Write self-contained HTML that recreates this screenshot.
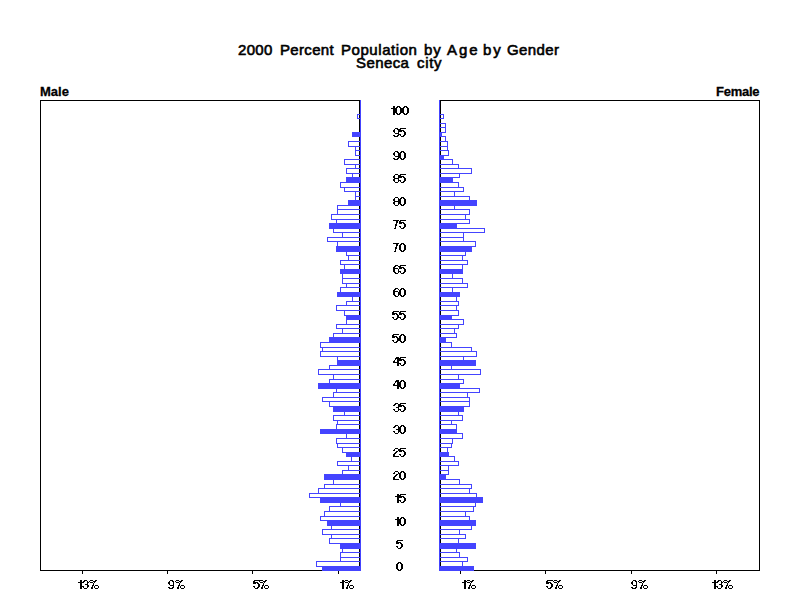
<!DOCTYPE html>
<html><head><meta charset="utf-8"><style>
html,body{margin:0;padding:0;background:#fff;}
body{width:800px;height:600px;position:relative;overflow:hidden;font-family:"Liberation Sans",sans-serif;}
i{position:absolute;display:block;}
b{position:absolute;display:block;white-space:nowrap;color:#000;line-height:1;font-weight:normal;}
.title{top:42px;font-size:15px;-webkit-text-stroke:0.6px #000;}
.sub{top:55px;font-size:15px;-webkit-text-stroke:0.6px #000;}
.side{top:85px;font-size:13px;font-weight:bold;-webkit-text-stroke:0.3px #000;}
.age{left:370px;width:60px;text-align:center;font-size:12px;letter-spacing:-0.5px;-webkit-text-stroke:0.3px #000;}
.tick{top:579px;font-size:12px;letter-spacing:0px;-webkit-text-stroke:0.3px #000;}
</style></head><body>
<b class="title" style="left:238px;letter-spacing:0.333px">2000</b>
<b class="title" style="left:280px;letter-spacing:0.333px">Percent</b>
<b class="title" style="left:341px;letter-spacing:0.556px">Population</b>
<b class="title" style="left:424px;letter-spacing:1.0px">by</b>
<b class="title" style="left:447px;letter-spacing:2.0px">Age</b>
<b class="title" style="left:483px;letter-spacing:2.0px">by</b>
<b class="title" style="left:507px;letter-spacing:0.4px">Gender</b>
<b class="sub" style="left:356px;letter-spacing:0.4px">Seneca</b>
<b class="sub" style="left:417px;letter-spacing:0.667px">city</b>
<b class="side" style="left:40px">Male</b>
<b class="side" style="left:716px;letter-spacing:-0.25px">Female</b>


<i style="left:40px;top:100px;width:320px;height:1px;background:#000"></i><i style="left:40px;top:570px;width:320px;height:1px;background:#000"></i><i style="left:40px;top:100px;width:1px;height:471px;background:#000"></i><i style="left:359px;top:100px;width:1px;height:471px;background:#000"></i><i style="left:440px;top:100px;width:320px;height:1px;background:#000"></i><i style="left:440px;top:570px;width:320px;height:1px;background:#000"></i><i style="left:759px;top:100px;width:1px;height:471px;background:#000"></i><i style="left:440px;top:100px;width:1px;height:471px;background:#000"></i><i style="left:82px;top:571px;width:1px;height:3px;background:#000"></i><i style="left:167px;top:571px;width:1px;height:3px;background:#000"></i><i style="left:252px;top:571px;width:1px;height:3px;background:#000"></i><i style="left:338px;top:571px;width:1px;height:3px;background:#000"></i><i style="left:460px;top:571px;width:1px;height:3px;background:#000"></i><i style="left:545px;top:571px;width:1px;height:3px;background:#000"></i><i style="left:631px;top:571px;width:1px;height:3px;background:#000"></i><i style="left:716px;top:571px;width:1px;height:3px;background:#000"></i><i style="left:357px;top:114px;width:4px;height:1px;background:#4444ff"></i><i style="left:357px;top:118px;width:4px;height:1px;background:#4444ff"></i><i style="left:357px;top:114px;width:1px;height:5px;background:#4444ff"></i><i style="left:439px;top:114px;width:5px;height:1px;background:#4444ff"></i><i style="left:439px;top:118px;width:5px;height:1px;background:#4444ff"></i><i style="left:443px;top:114px;width:1px;height:5px;background:#4444ff"></i><i style="left:439px;top:123px;width:7px;height:1px;background:#4444ff"></i><i style="left:439px;top:127px;width:7px;height:1px;background:#4444ff"></i><i style="left:445px;top:123px;width:1px;height:5px;background:#4444ff"></i><i style="left:439px;top:127px;width:7px;height:1px;background:#4444ff"></i><i style="left:439px;top:132px;width:7px;height:1px;background:#4444ff"></i><i style="left:445px;top:127px;width:1px;height:6px;background:#4444ff"></i><i style="left:352px;top:132px;width:9px;height:5px;background:#4444ff"></i><i style="left:439px;top:132px;width:3px;height:5px;background:#4444ff"></i><i style="left:439px;top:136px;width:7px;height:1px;background:#4444ff"></i><i style="left:439px;top:141px;width:7px;height:1px;background:#4444ff"></i><i style="left:445px;top:136px;width:1px;height:6px;background:#4444ff"></i><i style="left:348px;top:141px;width:13px;height:1px;background:#4444ff"></i><i style="left:348px;top:146px;width:13px;height:1px;background:#4444ff"></i><i style="left:348px;top:141px;width:1px;height:6px;background:#4444ff"></i><i style="left:439px;top:141px;width:9px;height:1px;background:#4444ff"></i><i style="left:439px;top:146px;width:9px;height:1px;background:#4444ff"></i><i style="left:447px;top:141px;width:1px;height:6px;background:#4444ff"></i><i style="left:355px;top:146px;width:6px;height:1px;background:#4444ff"></i><i style="left:355px;top:150px;width:6px;height:1px;background:#4444ff"></i><i style="left:355px;top:146px;width:1px;height:5px;background:#4444ff"></i><i style="left:439px;top:146px;width:9px;height:1px;background:#4444ff"></i><i style="left:439px;top:150px;width:9px;height:1px;background:#4444ff"></i><i style="left:447px;top:146px;width:1px;height:5px;background:#4444ff"></i><i style="left:355px;top:150px;width:6px;height:1px;background:#4444ff"></i><i style="left:355px;top:155px;width:6px;height:1px;background:#4444ff"></i><i style="left:355px;top:150px;width:1px;height:6px;background:#4444ff"></i><i style="left:439px;top:150px;width:10px;height:1px;background:#4444ff"></i><i style="left:439px;top:155px;width:10px;height:1px;background:#4444ff"></i><i style="left:448px;top:150px;width:1px;height:6px;background:#4444ff"></i><i style="left:439px;top:155px;width:5px;height:5px;background:#4444ff"></i><i style="left:344px;top:159px;width:17px;height:1px;background:#4444ff"></i><i style="left:344px;top:164px;width:17px;height:1px;background:#4444ff"></i><i style="left:344px;top:159px;width:1px;height:6px;background:#4444ff"></i><i style="left:439px;top:159px;width:14px;height:1px;background:#4444ff"></i><i style="left:439px;top:164px;width:14px;height:1px;background:#4444ff"></i><i style="left:452px;top:159px;width:1px;height:6px;background:#4444ff"></i><i style="left:355px;top:164px;width:6px;height:1px;background:#4444ff"></i><i style="left:355px;top:168px;width:6px;height:1px;background:#4444ff"></i><i style="left:355px;top:164px;width:1px;height:5px;background:#4444ff"></i><i style="left:439px;top:164px;width:20px;height:1px;background:#4444ff"></i><i style="left:439px;top:168px;width:20px;height:1px;background:#4444ff"></i><i style="left:458px;top:164px;width:1px;height:5px;background:#4444ff"></i><i style="left:346px;top:168px;width:15px;height:1px;background:#4444ff"></i><i style="left:346px;top:173px;width:15px;height:1px;background:#4444ff"></i><i style="left:346px;top:168px;width:1px;height:6px;background:#4444ff"></i><i style="left:439px;top:168px;width:33px;height:1px;background:#4444ff"></i><i style="left:439px;top:173px;width:33px;height:1px;background:#4444ff"></i><i style="left:471px;top:168px;width:1px;height:6px;background:#4444ff"></i><i style="left:352px;top:173px;width:9px;height:1px;background:#4444ff"></i><i style="left:352px;top:177px;width:9px;height:1px;background:#4444ff"></i><i style="left:352px;top:173px;width:1px;height:5px;background:#4444ff"></i><i style="left:439px;top:173px;width:21px;height:1px;background:#4444ff"></i><i style="left:439px;top:177px;width:21px;height:1px;background:#4444ff"></i><i style="left:459px;top:173px;width:1px;height:5px;background:#4444ff"></i><i style="left:346px;top:177px;width:15px;height:6px;background:#4444ff"></i><i style="left:439px;top:177px;width:14px;height:6px;background:#4444ff"></i><i style="left:340px;top:182px;width:21px;height:1px;background:#4444ff"></i><i style="left:340px;top:187px;width:21px;height:1px;background:#4444ff"></i><i style="left:340px;top:182px;width:1px;height:6px;background:#4444ff"></i><i style="left:439px;top:182px;width:20px;height:1px;background:#4444ff"></i><i style="left:439px;top:187px;width:20px;height:1px;background:#4444ff"></i><i style="left:458px;top:182px;width:1px;height:6px;background:#4444ff"></i><i style="left:344px;top:187px;width:17px;height:1px;background:#4444ff"></i><i style="left:344px;top:191px;width:17px;height:1px;background:#4444ff"></i><i style="left:344px;top:187px;width:1px;height:5px;background:#4444ff"></i><i style="left:439px;top:187px;width:25px;height:1px;background:#4444ff"></i><i style="left:439px;top:191px;width:25px;height:1px;background:#4444ff"></i><i style="left:463px;top:187px;width:1px;height:5px;background:#4444ff"></i><i style="left:355px;top:191px;width:6px;height:1px;background:#4444ff"></i><i style="left:355px;top:196px;width:6px;height:1px;background:#4444ff"></i><i style="left:355px;top:191px;width:1px;height:6px;background:#4444ff"></i><i style="left:439px;top:191px;width:16px;height:1px;background:#4444ff"></i><i style="left:439px;top:196px;width:16px;height:1px;background:#4444ff"></i><i style="left:454px;top:191px;width:1px;height:6px;background:#4444ff"></i><i style="left:355px;top:196px;width:6px;height:1px;background:#4444ff"></i><i style="left:355px;top:200px;width:6px;height:1px;background:#4444ff"></i><i style="left:355px;top:196px;width:1px;height:5px;background:#4444ff"></i><i style="left:439px;top:196px;width:31px;height:1px;background:#4444ff"></i><i style="left:439px;top:200px;width:31px;height:1px;background:#4444ff"></i><i style="left:469px;top:196px;width:1px;height:5px;background:#4444ff"></i><i style="left:348px;top:200px;width:13px;height:6px;background:#4444ff"></i><i style="left:439px;top:200px;width:38px;height:6px;background:#4444ff"></i><i style="left:337px;top:205px;width:24px;height:1px;background:#4444ff"></i><i style="left:337px;top:209px;width:24px;height:1px;background:#4444ff"></i><i style="left:337px;top:205px;width:1px;height:5px;background:#4444ff"></i><i style="left:439px;top:205px;width:16px;height:1px;background:#4444ff"></i><i style="left:439px;top:209px;width:16px;height:1px;background:#4444ff"></i><i style="left:454px;top:205px;width:1px;height:5px;background:#4444ff"></i><i style="left:337px;top:209px;width:24px;height:1px;background:#4444ff"></i><i style="left:337px;top:214px;width:24px;height:1px;background:#4444ff"></i><i style="left:337px;top:209px;width:1px;height:6px;background:#4444ff"></i><i style="left:439px;top:209px;width:31px;height:1px;background:#4444ff"></i><i style="left:439px;top:214px;width:31px;height:1px;background:#4444ff"></i><i style="left:469px;top:209px;width:1px;height:6px;background:#4444ff"></i><i style="left:331px;top:214px;width:30px;height:1px;background:#4444ff"></i><i style="left:331px;top:219px;width:30px;height:1px;background:#4444ff"></i><i style="left:331px;top:214px;width:1px;height:6px;background:#4444ff"></i><i style="left:439px;top:214px;width:27px;height:1px;background:#4444ff"></i><i style="left:439px;top:219px;width:27px;height:1px;background:#4444ff"></i><i style="left:465px;top:214px;width:1px;height:6px;background:#4444ff"></i><i style="left:336px;top:219px;width:25px;height:1px;background:#4444ff"></i><i style="left:336px;top:223px;width:25px;height:1px;background:#4444ff"></i><i style="left:336px;top:219px;width:1px;height:5px;background:#4444ff"></i><i style="left:439px;top:219px;width:31px;height:1px;background:#4444ff"></i><i style="left:439px;top:223px;width:31px;height:1px;background:#4444ff"></i><i style="left:469px;top:219px;width:1px;height:5px;background:#4444ff"></i><i style="left:329px;top:223px;width:32px;height:6px;background:#4444ff"></i><i style="left:439px;top:223px;width:18px;height:6px;background:#4444ff"></i><i style="left:333px;top:228px;width:28px;height:1px;background:#4444ff"></i><i style="left:333px;top:232px;width:28px;height:1px;background:#4444ff"></i><i style="left:333px;top:228px;width:1px;height:5px;background:#4444ff"></i><i style="left:439px;top:228px;width:46px;height:1px;background:#4444ff"></i><i style="left:439px;top:232px;width:46px;height:1px;background:#4444ff"></i><i style="left:484px;top:228px;width:1px;height:5px;background:#4444ff"></i><i style="left:342px;top:232px;width:19px;height:1px;background:#4444ff"></i><i style="left:342px;top:237px;width:19px;height:1px;background:#4444ff"></i><i style="left:342px;top:232px;width:1px;height:6px;background:#4444ff"></i><i style="left:439px;top:232px;width:25px;height:1px;background:#4444ff"></i><i style="left:439px;top:237px;width:25px;height:1px;background:#4444ff"></i><i style="left:463px;top:232px;width:1px;height:6px;background:#4444ff"></i><i style="left:327px;top:237px;width:34px;height:1px;background:#4444ff"></i><i style="left:327px;top:241px;width:34px;height:1px;background:#4444ff"></i><i style="left:327px;top:237px;width:1px;height:5px;background:#4444ff"></i><i style="left:439px;top:237px;width:25px;height:1px;background:#4444ff"></i><i style="left:439px;top:241px;width:25px;height:1px;background:#4444ff"></i><i style="left:463px;top:237px;width:1px;height:5px;background:#4444ff"></i><i style="left:337px;top:241px;width:24px;height:1px;background:#4444ff"></i><i style="left:337px;top:246px;width:24px;height:1px;background:#4444ff"></i><i style="left:337px;top:241px;width:1px;height:6px;background:#4444ff"></i><i style="left:439px;top:241px;width:37px;height:1px;background:#4444ff"></i><i style="left:439px;top:246px;width:37px;height:1px;background:#4444ff"></i><i style="left:475px;top:241px;width:1px;height:6px;background:#4444ff"></i><i style="left:336px;top:246px;width:25px;height:6px;background:#4444ff"></i><i style="left:439px;top:246px;width:33px;height:6px;background:#4444ff"></i><i style="left:346px;top:251px;width:15px;height:1px;background:#4444ff"></i><i style="left:346px;top:255px;width:15px;height:1px;background:#4444ff"></i><i style="left:346px;top:251px;width:1px;height:5px;background:#4444ff"></i><i style="left:439px;top:251px;width:27px;height:1px;background:#4444ff"></i><i style="left:439px;top:255px;width:27px;height:1px;background:#4444ff"></i><i style="left:465px;top:251px;width:1px;height:5px;background:#4444ff"></i><i style="left:348px;top:255px;width:13px;height:1px;background:#4444ff"></i><i style="left:348px;top:260px;width:13px;height:1px;background:#4444ff"></i><i style="left:348px;top:255px;width:1px;height:6px;background:#4444ff"></i><i style="left:439px;top:255px;width:24px;height:1px;background:#4444ff"></i><i style="left:439px;top:260px;width:24px;height:1px;background:#4444ff"></i><i style="left:462px;top:255px;width:1px;height:6px;background:#4444ff"></i><i style="left:340px;top:260px;width:21px;height:1px;background:#4444ff"></i><i style="left:340px;top:264px;width:21px;height:1px;background:#4444ff"></i><i style="left:340px;top:260px;width:1px;height:5px;background:#4444ff"></i><i style="left:439px;top:260px;width:29px;height:1px;background:#4444ff"></i><i style="left:439px;top:264px;width:29px;height:1px;background:#4444ff"></i><i style="left:467px;top:260px;width:1px;height:5px;background:#4444ff"></i><i style="left:344px;top:264px;width:17px;height:1px;background:#4444ff"></i><i style="left:344px;top:269px;width:17px;height:1px;background:#4444ff"></i><i style="left:344px;top:264px;width:1px;height:6px;background:#4444ff"></i><i style="left:439px;top:264px;width:24px;height:1px;background:#4444ff"></i><i style="left:439px;top:269px;width:24px;height:1px;background:#4444ff"></i><i style="left:462px;top:264px;width:1px;height:6px;background:#4444ff"></i><i style="left:340px;top:269px;width:21px;height:5px;background:#4444ff"></i><i style="left:439px;top:269px;width:24px;height:5px;background:#4444ff"></i><i style="left:342px;top:273px;width:19px;height:1px;background:#4444ff"></i><i style="left:342px;top:278px;width:19px;height:1px;background:#4444ff"></i><i style="left:342px;top:273px;width:1px;height:6px;background:#4444ff"></i><i style="left:439px;top:273px;width:14px;height:1px;background:#4444ff"></i><i style="left:439px;top:278px;width:14px;height:1px;background:#4444ff"></i><i style="left:452px;top:273px;width:1px;height:6px;background:#4444ff"></i><i style="left:342px;top:278px;width:19px;height:1px;background:#4444ff"></i><i style="left:342px;top:283px;width:19px;height:1px;background:#4444ff"></i><i style="left:342px;top:278px;width:1px;height:6px;background:#4444ff"></i><i style="left:439px;top:278px;width:24px;height:1px;background:#4444ff"></i><i style="left:439px;top:283px;width:24px;height:1px;background:#4444ff"></i><i style="left:462px;top:278px;width:1px;height:6px;background:#4444ff"></i><i style="left:346px;top:283px;width:15px;height:1px;background:#4444ff"></i><i style="left:346px;top:287px;width:15px;height:1px;background:#4444ff"></i><i style="left:346px;top:283px;width:1px;height:5px;background:#4444ff"></i><i style="left:439px;top:283px;width:29px;height:1px;background:#4444ff"></i><i style="left:439px;top:287px;width:29px;height:1px;background:#4444ff"></i><i style="left:467px;top:283px;width:1px;height:5px;background:#4444ff"></i><i style="left:340px;top:287px;width:21px;height:1px;background:#4444ff"></i><i style="left:340px;top:292px;width:21px;height:1px;background:#4444ff"></i><i style="left:340px;top:287px;width:1px;height:6px;background:#4444ff"></i><i style="left:439px;top:287px;width:14px;height:1px;background:#4444ff"></i><i style="left:439px;top:292px;width:14px;height:1px;background:#4444ff"></i><i style="left:452px;top:287px;width:1px;height:6px;background:#4444ff"></i><i style="left:337px;top:292px;width:24px;height:5px;background:#4444ff"></i><i style="left:439px;top:292px;width:21px;height:5px;background:#4444ff"></i><i style="left:352px;top:296px;width:9px;height:1px;background:#4444ff"></i><i style="left:352px;top:301px;width:9px;height:1px;background:#4444ff"></i><i style="left:352px;top:296px;width:1px;height:6px;background:#4444ff"></i><i style="left:439px;top:296px;width:18px;height:1px;background:#4444ff"></i><i style="left:439px;top:301px;width:18px;height:1px;background:#4444ff"></i><i style="left:456px;top:296px;width:1px;height:6px;background:#4444ff"></i><i style="left:346px;top:301px;width:15px;height:1px;background:#4444ff"></i><i style="left:346px;top:305px;width:15px;height:1px;background:#4444ff"></i><i style="left:346px;top:301px;width:1px;height:5px;background:#4444ff"></i><i style="left:439px;top:301px;width:20px;height:1px;background:#4444ff"></i><i style="left:439px;top:305px;width:20px;height:1px;background:#4444ff"></i><i style="left:458px;top:301px;width:1px;height:5px;background:#4444ff"></i><i style="left:336px;top:305px;width:25px;height:1px;background:#4444ff"></i><i style="left:336px;top:310px;width:25px;height:1px;background:#4444ff"></i><i style="left:336px;top:305px;width:1px;height:6px;background:#4444ff"></i><i style="left:439px;top:305px;width:18px;height:1px;background:#4444ff"></i><i style="left:439px;top:310px;width:18px;height:1px;background:#4444ff"></i><i style="left:456px;top:305px;width:1px;height:6px;background:#4444ff"></i><i style="left:344px;top:310px;width:17px;height:1px;background:#4444ff"></i><i style="left:344px;top:315px;width:17px;height:1px;background:#4444ff"></i><i style="left:344px;top:310px;width:1px;height:6px;background:#4444ff"></i><i style="left:439px;top:310px;width:20px;height:1px;background:#4444ff"></i><i style="left:439px;top:315px;width:20px;height:1px;background:#4444ff"></i><i style="left:458px;top:310px;width:1px;height:6px;background:#4444ff"></i><i style="left:346px;top:315px;width:15px;height:5px;background:#4444ff"></i><i style="left:439px;top:315px;width:13px;height:5px;background:#4444ff"></i><i style="left:346px;top:319px;width:15px;height:1px;background:#4444ff"></i><i style="left:346px;top:324px;width:15px;height:1px;background:#4444ff"></i><i style="left:346px;top:319px;width:1px;height:6px;background:#4444ff"></i><i style="left:439px;top:319px;width:25px;height:1px;background:#4444ff"></i><i style="left:439px;top:324px;width:25px;height:1px;background:#4444ff"></i><i style="left:463px;top:319px;width:1px;height:6px;background:#4444ff"></i><i style="left:336px;top:324px;width:25px;height:1px;background:#4444ff"></i><i style="left:336px;top:328px;width:25px;height:1px;background:#4444ff"></i><i style="left:336px;top:324px;width:1px;height:5px;background:#4444ff"></i><i style="left:439px;top:324px;width:20px;height:1px;background:#4444ff"></i><i style="left:439px;top:328px;width:20px;height:1px;background:#4444ff"></i><i style="left:458px;top:324px;width:1px;height:5px;background:#4444ff"></i><i style="left:342px;top:328px;width:19px;height:1px;background:#4444ff"></i><i style="left:342px;top:333px;width:19px;height:1px;background:#4444ff"></i><i style="left:342px;top:328px;width:1px;height:6px;background:#4444ff"></i><i style="left:439px;top:328px;width:16px;height:1px;background:#4444ff"></i><i style="left:439px;top:333px;width:16px;height:1px;background:#4444ff"></i><i style="left:454px;top:328px;width:1px;height:6px;background:#4444ff"></i><i style="left:333px;top:333px;width:28px;height:1px;background:#4444ff"></i><i style="left:333px;top:337px;width:28px;height:1px;background:#4444ff"></i><i style="left:333px;top:333px;width:1px;height:5px;background:#4444ff"></i><i style="left:439px;top:333px;width:18px;height:1px;background:#4444ff"></i><i style="left:439px;top:337px;width:18px;height:1px;background:#4444ff"></i><i style="left:456px;top:333px;width:1px;height:5px;background:#4444ff"></i><i style="left:329px;top:337px;width:32px;height:6px;background:#4444ff"></i><i style="left:439px;top:337px;width:7px;height:6px;background:#4444ff"></i><i style="left:320px;top:342px;width:41px;height:1px;background:#4444ff"></i><i style="left:320px;top:347px;width:41px;height:1px;background:#4444ff"></i><i style="left:320px;top:342px;width:1px;height:6px;background:#4444ff"></i><i style="left:439px;top:342px;width:13px;height:1px;background:#4444ff"></i><i style="left:439px;top:347px;width:13px;height:1px;background:#4444ff"></i><i style="left:451px;top:342px;width:1px;height:6px;background:#4444ff"></i><i style="left:322px;top:347px;width:39px;height:1px;background:#4444ff"></i><i style="left:322px;top:351px;width:39px;height:1px;background:#4444ff"></i><i style="left:322px;top:347px;width:1px;height:5px;background:#4444ff"></i><i style="left:439px;top:347px;width:33px;height:1px;background:#4444ff"></i><i style="left:439px;top:351px;width:33px;height:1px;background:#4444ff"></i><i style="left:471px;top:347px;width:1px;height:5px;background:#4444ff"></i><i style="left:320px;top:351px;width:41px;height:1px;background:#4444ff"></i><i style="left:320px;top:356px;width:41px;height:1px;background:#4444ff"></i><i style="left:320px;top:351px;width:1px;height:6px;background:#4444ff"></i><i style="left:439px;top:351px;width:38px;height:1px;background:#4444ff"></i><i style="left:439px;top:356px;width:38px;height:1px;background:#4444ff"></i><i style="left:476px;top:351px;width:1px;height:6px;background:#4444ff"></i><i style="left:337px;top:356px;width:24px;height:1px;background:#4444ff"></i><i style="left:337px;top:360px;width:24px;height:1px;background:#4444ff"></i><i style="left:337px;top:356px;width:1px;height:5px;background:#4444ff"></i><i style="left:439px;top:356px;width:25px;height:1px;background:#4444ff"></i><i style="left:439px;top:360px;width:25px;height:1px;background:#4444ff"></i><i style="left:463px;top:356px;width:1px;height:5px;background:#4444ff"></i><i style="left:337px;top:360px;width:24px;height:6px;background:#4444ff"></i><i style="left:439px;top:360px;width:37px;height:6px;background:#4444ff"></i><i style="left:329px;top:365px;width:32px;height:1px;background:#4444ff"></i><i style="left:329px;top:369px;width:32px;height:1px;background:#4444ff"></i><i style="left:329px;top:365px;width:1px;height:5px;background:#4444ff"></i><i style="left:439px;top:365px;width:13px;height:1px;background:#4444ff"></i><i style="left:439px;top:369px;width:13px;height:1px;background:#4444ff"></i><i style="left:451px;top:365px;width:1px;height:5px;background:#4444ff"></i><i style="left:318px;top:369px;width:43px;height:1px;background:#4444ff"></i><i style="left:318px;top:374px;width:43px;height:1px;background:#4444ff"></i><i style="left:318px;top:369px;width:1px;height:6px;background:#4444ff"></i><i style="left:439px;top:369px;width:42px;height:1px;background:#4444ff"></i><i style="left:439px;top:374px;width:42px;height:1px;background:#4444ff"></i><i style="left:480px;top:369px;width:1px;height:6px;background:#4444ff"></i><i style="left:333px;top:374px;width:28px;height:1px;background:#4444ff"></i><i style="left:333px;top:379px;width:28px;height:1px;background:#4444ff"></i><i style="left:333px;top:374px;width:1px;height:6px;background:#4444ff"></i><i style="left:439px;top:374px;width:20px;height:1px;background:#4444ff"></i><i style="left:439px;top:379px;width:20px;height:1px;background:#4444ff"></i><i style="left:458px;top:374px;width:1px;height:6px;background:#4444ff"></i><i style="left:329px;top:379px;width:32px;height:1px;background:#4444ff"></i><i style="left:329px;top:383px;width:32px;height:1px;background:#4444ff"></i><i style="left:329px;top:379px;width:1px;height:5px;background:#4444ff"></i><i style="left:439px;top:379px;width:25px;height:1px;background:#4444ff"></i><i style="left:439px;top:383px;width:25px;height:1px;background:#4444ff"></i><i style="left:463px;top:379px;width:1px;height:5px;background:#4444ff"></i><i style="left:318px;top:383px;width:43px;height:6px;background:#4444ff"></i><i style="left:439px;top:383px;width:21px;height:6px;background:#4444ff"></i><i style="left:336px;top:388px;width:25px;height:1px;background:#4444ff"></i><i style="left:336px;top:392px;width:25px;height:1px;background:#4444ff"></i><i style="left:336px;top:388px;width:1px;height:5px;background:#4444ff"></i><i style="left:439px;top:388px;width:41px;height:1px;background:#4444ff"></i><i style="left:439px;top:392px;width:41px;height:1px;background:#4444ff"></i><i style="left:479px;top:388px;width:1px;height:5px;background:#4444ff"></i><i style="left:333px;top:392px;width:28px;height:1px;background:#4444ff"></i><i style="left:333px;top:397px;width:28px;height:1px;background:#4444ff"></i><i style="left:333px;top:392px;width:1px;height:6px;background:#4444ff"></i><i style="left:439px;top:392px;width:29px;height:1px;background:#4444ff"></i><i style="left:439px;top:397px;width:29px;height:1px;background:#4444ff"></i><i style="left:467px;top:392px;width:1px;height:6px;background:#4444ff"></i><i style="left:322px;top:397px;width:39px;height:1px;background:#4444ff"></i><i style="left:322px;top:401px;width:39px;height:1px;background:#4444ff"></i><i style="left:322px;top:397px;width:1px;height:5px;background:#4444ff"></i><i style="left:439px;top:397px;width:31px;height:1px;background:#4444ff"></i><i style="left:439px;top:401px;width:31px;height:1px;background:#4444ff"></i><i style="left:469px;top:397px;width:1px;height:5px;background:#4444ff"></i><i style="left:329px;top:401px;width:32px;height:1px;background:#4444ff"></i><i style="left:329px;top:406px;width:32px;height:1px;background:#4444ff"></i><i style="left:329px;top:401px;width:1px;height:6px;background:#4444ff"></i><i style="left:439px;top:401px;width:31px;height:1px;background:#4444ff"></i><i style="left:439px;top:406px;width:31px;height:1px;background:#4444ff"></i><i style="left:469px;top:401px;width:1px;height:6px;background:#4444ff"></i><i style="left:333px;top:406px;width:28px;height:6px;background:#4444ff"></i><i style="left:439px;top:406px;width:25px;height:6px;background:#4444ff"></i><i style="left:344px;top:411px;width:17px;height:1px;background:#4444ff"></i><i style="left:344px;top:415px;width:17px;height:1px;background:#4444ff"></i><i style="left:344px;top:411px;width:1px;height:5px;background:#4444ff"></i><i style="left:439px;top:411px;width:20px;height:1px;background:#4444ff"></i><i style="left:439px;top:415px;width:20px;height:1px;background:#4444ff"></i><i style="left:458px;top:411px;width:1px;height:5px;background:#4444ff"></i><i style="left:333px;top:415px;width:28px;height:1px;background:#4444ff"></i><i style="left:333px;top:420px;width:28px;height:1px;background:#4444ff"></i><i style="left:333px;top:415px;width:1px;height:6px;background:#4444ff"></i><i style="left:439px;top:415px;width:24px;height:1px;background:#4444ff"></i><i style="left:439px;top:420px;width:24px;height:1px;background:#4444ff"></i><i style="left:462px;top:415px;width:1px;height:6px;background:#4444ff"></i><i style="left:337px;top:420px;width:24px;height:1px;background:#4444ff"></i><i style="left:337px;top:424px;width:24px;height:1px;background:#4444ff"></i><i style="left:337px;top:420px;width:1px;height:5px;background:#4444ff"></i><i style="left:439px;top:420px;width:13px;height:1px;background:#4444ff"></i><i style="left:439px;top:424px;width:13px;height:1px;background:#4444ff"></i><i style="left:451px;top:420px;width:1px;height:5px;background:#4444ff"></i><i style="left:336px;top:424px;width:25px;height:1px;background:#4444ff"></i><i style="left:336px;top:429px;width:25px;height:1px;background:#4444ff"></i><i style="left:336px;top:424px;width:1px;height:6px;background:#4444ff"></i><i style="left:439px;top:424px;width:18px;height:1px;background:#4444ff"></i><i style="left:439px;top:429px;width:18px;height:1px;background:#4444ff"></i><i style="left:456px;top:424px;width:1px;height:6px;background:#4444ff"></i><i style="left:320px;top:429px;width:41px;height:5px;background:#4444ff"></i><i style="left:439px;top:429px;width:18px;height:5px;background:#4444ff"></i><i style="left:346px;top:433px;width:15px;height:1px;background:#4444ff"></i><i style="left:346px;top:438px;width:15px;height:1px;background:#4444ff"></i><i style="left:346px;top:433px;width:1px;height:6px;background:#4444ff"></i><i style="left:439px;top:433px;width:24px;height:1px;background:#4444ff"></i><i style="left:439px;top:438px;width:24px;height:1px;background:#4444ff"></i><i style="left:462px;top:433px;width:1px;height:6px;background:#4444ff"></i><i style="left:336px;top:438px;width:25px;height:1px;background:#4444ff"></i><i style="left:336px;top:443px;width:25px;height:1px;background:#4444ff"></i><i style="left:336px;top:438px;width:1px;height:6px;background:#4444ff"></i><i style="left:439px;top:438px;width:14px;height:1px;background:#4444ff"></i><i style="left:439px;top:443px;width:14px;height:1px;background:#4444ff"></i><i style="left:452px;top:438px;width:1px;height:6px;background:#4444ff"></i><i style="left:337px;top:443px;width:24px;height:1px;background:#4444ff"></i><i style="left:337px;top:447px;width:24px;height:1px;background:#4444ff"></i><i style="left:337px;top:443px;width:1px;height:5px;background:#4444ff"></i><i style="left:439px;top:443px;width:13px;height:1px;background:#4444ff"></i><i style="left:439px;top:447px;width:13px;height:1px;background:#4444ff"></i><i style="left:451px;top:443px;width:1px;height:5px;background:#4444ff"></i><i style="left:342px;top:447px;width:19px;height:1px;background:#4444ff"></i><i style="left:342px;top:452px;width:19px;height:1px;background:#4444ff"></i><i style="left:342px;top:447px;width:1px;height:6px;background:#4444ff"></i><i style="left:439px;top:447px;width:9px;height:1px;background:#4444ff"></i><i style="left:439px;top:452px;width:9px;height:1px;background:#4444ff"></i><i style="left:447px;top:447px;width:1px;height:6px;background:#4444ff"></i><i style="left:346px;top:452px;width:15px;height:5px;background:#4444ff"></i><i style="left:439px;top:452px;width:10px;height:5px;background:#4444ff"></i><i style="left:351px;top:456px;width:10px;height:1px;background:#4444ff"></i><i style="left:351px;top:461px;width:10px;height:1px;background:#4444ff"></i><i style="left:351px;top:456px;width:1px;height:6px;background:#4444ff"></i><i style="left:439px;top:456px;width:16px;height:1px;background:#4444ff"></i><i style="left:439px;top:461px;width:16px;height:1px;background:#4444ff"></i><i style="left:454px;top:456px;width:1px;height:6px;background:#4444ff"></i><i style="left:337px;top:461px;width:24px;height:1px;background:#4444ff"></i><i style="left:337px;top:465px;width:24px;height:1px;background:#4444ff"></i><i style="left:337px;top:461px;width:1px;height:5px;background:#4444ff"></i><i style="left:439px;top:461px;width:20px;height:1px;background:#4444ff"></i><i style="left:439px;top:465px;width:20px;height:1px;background:#4444ff"></i><i style="left:458px;top:461px;width:1px;height:5px;background:#4444ff"></i><i style="left:348px;top:465px;width:13px;height:1px;background:#4444ff"></i><i style="left:348px;top:470px;width:13px;height:1px;background:#4444ff"></i><i style="left:348px;top:465px;width:1px;height:6px;background:#4444ff"></i><i style="left:439px;top:465px;width:10px;height:1px;background:#4444ff"></i><i style="left:439px;top:470px;width:10px;height:1px;background:#4444ff"></i><i style="left:448px;top:465px;width:1px;height:6px;background:#4444ff"></i><i style="left:342px;top:470px;width:19px;height:1px;background:#4444ff"></i><i style="left:342px;top:474px;width:19px;height:1px;background:#4444ff"></i><i style="left:342px;top:470px;width:1px;height:5px;background:#4444ff"></i><i style="left:439px;top:470px;width:10px;height:1px;background:#4444ff"></i><i style="left:439px;top:474px;width:10px;height:1px;background:#4444ff"></i><i style="left:448px;top:470px;width:1px;height:5px;background:#4444ff"></i><i style="left:324px;top:474px;width:37px;height:6px;background:#4444ff"></i><i style="left:439px;top:474px;width:7px;height:6px;background:#4444ff"></i><i style="left:333px;top:479px;width:28px;height:1px;background:#4444ff"></i><i style="left:333px;top:484px;width:28px;height:1px;background:#4444ff"></i><i style="left:333px;top:479px;width:1px;height:6px;background:#4444ff"></i><i style="left:439px;top:479px;width:21px;height:1px;background:#4444ff"></i><i style="left:439px;top:484px;width:21px;height:1px;background:#4444ff"></i><i style="left:459px;top:479px;width:1px;height:6px;background:#4444ff"></i><i style="left:324px;top:484px;width:37px;height:1px;background:#4444ff"></i><i style="left:324px;top:488px;width:37px;height:1px;background:#4444ff"></i><i style="left:324px;top:484px;width:1px;height:5px;background:#4444ff"></i><i style="left:439px;top:484px;width:33px;height:1px;background:#4444ff"></i><i style="left:439px;top:488px;width:33px;height:1px;background:#4444ff"></i><i style="left:471px;top:484px;width:1px;height:5px;background:#4444ff"></i><i style="left:318px;top:488px;width:43px;height:1px;background:#4444ff"></i><i style="left:318px;top:493px;width:43px;height:1px;background:#4444ff"></i><i style="left:318px;top:488px;width:1px;height:6px;background:#4444ff"></i><i style="left:439px;top:488px;width:31px;height:1px;background:#4444ff"></i><i style="left:439px;top:493px;width:31px;height:1px;background:#4444ff"></i><i style="left:469px;top:488px;width:1px;height:6px;background:#4444ff"></i><i style="left:309px;top:493px;width:52px;height:1px;background:#4444ff"></i><i style="left:309px;top:497px;width:52px;height:1px;background:#4444ff"></i><i style="left:309px;top:493px;width:1px;height:5px;background:#4444ff"></i><i style="left:439px;top:493px;width:38px;height:1px;background:#4444ff"></i><i style="left:439px;top:497px;width:38px;height:1px;background:#4444ff"></i><i style="left:476px;top:493px;width:1px;height:5px;background:#4444ff"></i><i style="left:320px;top:497px;width:41px;height:6px;background:#4444ff"></i><i style="left:439px;top:497px;width:44px;height:6px;background:#4444ff"></i><i style="left:340px;top:502px;width:21px;height:1px;background:#4444ff"></i><i style="left:340px;top:506px;width:21px;height:1px;background:#4444ff"></i><i style="left:340px;top:502px;width:1px;height:5px;background:#4444ff"></i><i style="left:439px;top:502px;width:37px;height:1px;background:#4444ff"></i><i style="left:439px;top:506px;width:37px;height:1px;background:#4444ff"></i><i style="left:475px;top:502px;width:1px;height:5px;background:#4444ff"></i><i style="left:329px;top:506px;width:32px;height:1px;background:#4444ff"></i><i style="left:329px;top:511px;width:32px;height:1px;background:#4444ff"></i><i style="left:329px;top:506px;width:1px;height:6px;background:#4444ff"></i><i style="left:439px;top:506px;width:35px;height:1px;background:#4444ff"></i><i style="left:439px;top:511px;width:35px;height:1px;background:#4444ff"></i><i style="left:473px;top:506px;width:1px;height:6px;background:#4444ff"></i><i style="left:324px;top:511px;width:37px;height:1px;background:#4444ff"></i><i style="left:324px;top:516px;width:37px;height:1px;background:#4444ff"></i><i style="left:324px;top:511px;width:1px;height:6px;background:#4444ff"></i><i style="left:439px;top:511px;width:27px;height:1px;background:#4444ff"></i><i style="left:439px;top:516px;width:27px;height:1px;background:#4444ff"></i><i style="left:465px;top:511px;width:1px;height:6px;background:#4444ff"></i><i style="left:320px;top:516px;width:41px;height:1px;background:#4444ff"></i><i style="left:320px;top:520px;width:41px;height:1px;background:#4444ff"></i><i style="left:320px;top:516px;width:1px;height:5px;background:#4444ff"></i><i style="left:439px;top:516px;width:31px;height:1px;background:#4444ff"></i><i style="left:439px;top:520px;width:31px;height:1px;background:#4444ff"></i><i style="left:469px;top:516px;width:1px;height:5px;background:#4444ff"></i><i style="left:327px;top:520px;width:34px;height:6px;background:#4444ff"></i><i style="left:439px;top:520px;width:37px;height:6px;background:#4444ff"></i><i style="left:331px;top:525px;width:30px;height:1px;background:#4444ff"></i><i style="left:331px;top:529px;width:30px;height:1px;background:#4444ff"></i><i style="left:331px;top:525px;width:1px;height:5px;background:#4444ff"></i><i style="left:439px;top:525px;width:33px;height:1px;background:#4444ff"></i><i style="left:439px;top:529px;width:33px;height:1px;background:#4444ff"></i><i style="left:471px;top:525px;width:1px;height:5px;background:#4444ff"></i><i style="left:322px;top:529px;width:39px;height:1px;background:#4444ff"></i><i style="left:322px;top:534px;width:39px;height:1px;background:#4444ff"></i><i style="left:322px;top:529px;width:1px;height:6px;background:#4444ff"></i><i style="left:439px;top:529px;width:21px;height:1px;background:#4444ff"></i><i style="left:439px;top:534px;width:21px;height:1px;background:#4444ff"></i><i style="left:459px;top:529px;width:1px;height:6px;background:#4444ff"></i><i style="left:331px;top:534px;width:30px;height:1px;background:#4444ff"></i><i style="left:331px;top:538px;width:30px;height:1px;background:#4444ff"></i><i style="left:331px;top:534px;width:1px;height:5px;background:#4444ff"></i><i style="left:439px;top:534px;width:27px;height:1px;background:#4444ff"></i><i style="left:439px;top:538px;width:27px;height:1px;background:#4444ff"></i><i style="left:465px;top:534px;width:1px;height:5px;background:#4444ff"></i><i style="left:329px;top:538px;width:32px;height:1px;background:#4444ff"></i><i style="left:329px;top:543px;width:32px;height:1px;background:#4444ff"></i><i style="left:329px;top:538px;width:1px;height:6px;background:#4444ff"></i><i style="left:439px;top:538px;width:20px;height:1px;background:#4444ff"></i><i style="left:439px;top:543px;width:20px;height:1px;background:#4444ff"></i><i style="left:458px;top:538px;width:1px;height:6px;background:#4444ff"></i><i style="left:340px;top:543px;width:21px;height:6px;background:#4444ff"></i><i style="left:439px;top:543px;width:37px;height:6px;background:#4444ff"></i><i style="left:342px;top:548px;width:19px;height:1px;background:#4444ff"></i><i style="left:342px;top:552px;width:19px;height:1px;background:#4444ff"></i><i style="left:342px;top:548px;width:1px;height:5px;background:#4444ff"></i><i style="left:439px;top:548px;width:18px;height:1px;background:#4444ff"></i><i style="left:439px;top:552px;width:18px;height:1px;background:#4444ff"></i><i style="left:456px;top:548px;width:1px;height:5px;background:#4444ff"></i><i style="left:340px;top:552px;width:21px;height:1px;background:#4444ff"></i><i style="left:340px;top:557px;width:21px;height:1px;background:#4444ff"></i><i style="left:340px;top:552px;width:1px;height:6px;background:#4444ff"></i><i style="left:439px;top:552px;width:21px;height:1px;background:#4444ff"></i><i style="left:439px;top:557px;width:21px;height:1px;background:#4444ff"></i><i style="left:459px;top:552px;width:1px;height:6px;background:#4444ff"></i><i style="left:340px;top:557px;width:21px;height:1px;background:#4444ff"></i><i style="left:340px;top:561px;width:21px;height:1px;background:#4444ff"></i><i style="left:340px;top:557px;width:1px;height:5px;background:#4444ff"></i><i style="left:439px;top:557px;width:29px;height:1px;background:#4444ff"></i><i style="left:439px;top:561px;width:29px;height:1px;background:#4444ff"></i><i style="left:467px;top:557px;width:1px;height:5px;background:#4444ff"></i><i style="left:316px;top:561px;width:45px;height:1px;background:#4444ff"></i><i style="left:316px;top:566px;width:45px;height:1px;background:#4444ff"></i><i style="left:316px;top:561px;width:1px;height:6px;background:#4444ff"></i><i style="left:439px;top:561px;width:24px;height:1px;background:#4444ff"></i><i style="left:439px;top:566px;width:24px;height:1px;background:#4444ff"></i><i style="left:462px;top:561px;width:1px;height:6px;background:#4444ff"></i><i style="left:322px;top:566px;width:39px;height:5px;background:#4444ff"></i><i style="left:439px;top:566px;width:35px;height:5px;background:#4444ff"></i><i style="left:360px;top:100px;width:1px;height:471px;background:#4444ff"></i><i style="left:439px;top:100px;width:1px;height:471px;background:#4444ff"></i><i style="left:393px;top:106px;width:2px;height:1px;background:#000"></i><i style="left:393px;top:107px;width:2px;height:1px;background:#000"></i><i style="left:391px;top:108px;width:4px;height:1px;background:#000"></i><i style="left:393px;top:109px;width:2px;height:1px;background:#000"></i><i style="left:393px;top:110px;width:2px;height:1px;background:#000"></i><i style="left:393px;top:111px;width:2px;height:1px;background:#000"></i><i style="left:393px;top:112px;width:2px;height:1px;background:#000"></i><i style="left:393px;top:113px;width:2px;height:1px;background:#000"></i><i style="left:393px;top:114px;width:2px;height:1px;background:#000"></i><i style="left:397px;top:106px;width:3px;height:1px;background:#000"></i><i style="left:396px;top:107px;width:2px;height:1px;background:#000"></i><i style="left:399px;top:107px;width:2px;height:1px;background:#000"></i><i style="left:395px;top:108px;width:2px;height:1px;background:#000"></i><i style="left:400px;top:108px;width:2px;height:1px;background:#000"></i><i style="left:395px;top:109px;width:2px;height:1px;background:#000"></i><i style="left:400px;top:109px;width:2px;height:1px;background:#000"></i><i style="left:395px;top:110px;width:2px;height:1px;background:#000"></i><i style="left:400px;top:110px;width:2px;height:1px;background:#000"></i><i style="left:395px;top:111px;width:2px;height:1px;background:#000"></i><i style="left:400px;top:111px;width:2px;height:1px;background:#000"></i><i style="left:395px;top:112px;width:2px;height:1px;background:#000"></i><i style="left:400px;top:112px;width:2px;height:1px;background:#000"></i><i style="left:396px;top:113px;width:2px;height:1px;background:#000"></i><i style="left:399px;top:113px;width:2px;height:1px;background:#000"></i><i style="left:397px;top:114px;width:3px;height:1px;background:#000"></i><i style="left:404px;top:106px;width:3px;height:1px;background:#000"></i><i style="left:403px;top:107px;width:2px;height:1px;background:#000"></i><i style="left:406px;top:107px;width:2px;height:1px;background:#000"></i><i style="left:402px;top:108px;width:2px;height:1px;background:#000"></i><i style="left:407px;top:108px;width:2px;height:1px;background:#000"></i><i style="left:402px;top:109px;width:2px;height:1px;background:#000"></i><i style="left:407px;top:109px;width:2px;height:1px;background:#000"></i><i style="left:402px;top:110px;width:2px;height:1px;background:#000"></i><i style="left:407px;top:110px;width:2px;height:1px;background:#000"></i><i style="left:402px;top:111px;width:2px;height:1px;background:#000"></i><i style="left:407px;top:111px;width:2px;height:1px;background:#000"></i><i style="left:402px;top:112px;width:2px;height:1px;background:#000"></i><i style="left:407px;top:112px;width:2px;height:1px;background:#000"></i><i style="left:403px;top:113px;width:2px;height:1px;background:#000"></i><i style="left:406px;top:113px;width:2px;height:1px;background:#000"></i><i style="left:404px;top:114px;width:3px;height:1px;background:#000"></i><i style="left:395px;top:128px;width:3px;height:1px;background:#000"></i><i style="left:394px;top:129px;width:1px;height:1px;background:#000"></i><i style="left:397px;top:129px;width:2px;height:1px;background:#000"></i><i style="left:393px;top:130px;width:2px;height:1px;background:#000"></i><i style="left:398px;top:130px;width:1px;height:1px;background:#000"></i><i style="left:393px;top:131px;width:2px;height:1px;background:#000"></i><i style="left:398px;top:131px;width:1px;height:1px;background:#000"></i><i style="left:394px;top:132px;width:1px;height:1px;background:#000"></i><i style="left:398px;top:132px;width:1px;height:1px;background:#000"></i><i style="left:395px;top:133px;width:4px;height:1px;background:#000"></i><i style="left:398px;top:134px;width:1px;height:1px;background:#000"></i><i style="left:393px;top:135px;width:2px;height:1px;background:#000"></i><i style="left:397px;top:135px;width:2px;height:1px;background:#000"></i><i style="left:394px;top:136px;width:4px;height:1px;background:#000"></i><i style="left:400px;top:128px;width:6px;height:1px;background:#000"></i><i style="left:399px;top:129px;width:2px;height:1px;background:#000"></i><i style="left:399px;top:130px;width:5px;height:1px;background:#000"></i><i style="left:399px;top:131px;width:3px;height:1px;background:#000"></i><i style="left:403px;top:131px;width:2px;height:1px;background:#000"></i><i style="left:404px;top:132px;width:2px;height:1px;background:#000"></i><i style="left:404px;top:133px;width:2px;height:1px;background:#000"></i><i style="left:399px;top:134px;width:2px;height:1px;background:#000"></i><i style="left:404px;top:134px;width:2px;height:1px;background:#000"></i><i style="left:400px;top:135px;width:1px;height:1px;background:#000"></i><i style="left:403px;top:135px;width:2px;height:1px;background:#000"></i><i style="left:401px;top:136px;width:3px;height:1px;background:#000"></i><i style="left:395px;top:151px;width:3px;height:1px;background:#000"></i><i style="left:394px;top:152px;width:1px;height:1px;background:#000"></i><i style="left:397px;top:152px;width:2px;height:1px;background:#000"></i><i style="left:393px;top:153px;width:2px;height:1px;background:#000"></i><i style="left:398px;top:153px;width:1px;height:1px;background:#000"></i><i style="left:393px;top:154px;width:2px;height:1px;background:#000"></i><i style="left:398px;top:154px;width:1px;height:1px;background:#000"></i><i style="left:394px;top:155px;width:1px;height:1px;background:#000"></i><i style="left:398px;top:155px;width:1px;height:1px;background:#000"></i><i style="left:395px;top:156px;width:4px;height:1px;background:#000"></i><i style="left:398px;top:157px;width:1px;height:1px;background:#000"></i><i style="left:393px;top:158px;width:2px;height:1px;background:#000"></i><i style="left:397px;top:158px;width:2px;height:1px;background:#000"></i><i style="left:394px;top:159px;width:4px;height:1px;background:#000"></i><i style="left:401px;top:151px;width:3px;height:1px;background:#000"></i><i style="left:400px;top:152px;width:2px;height:1px;background:#000"></i><i style="left:403px;top:152px;width:2px;height:1px;background:#000"></i><i style="left:399px;top:153px;width:2px;height:1px;background:#000"></i><i style="left:404px;top:153px;width:2px;height:1px;background:#000"></i><i style="left:399px;top:154px;width:2px;height:1px;background:#000"></i><i style="left:404px;top:154px;width:2px;height:1px;background:#000"></i><i style="left:399px;top:155px;width:2px;height:1px;background:#000"></i><i style="left:404px;top:155px;width:2px;height:1px;background:#000"></i><i style="left:399px;top:156px;width:2px;height:1px;background:#000"></i><i style="left:404px;top:156px;width:2px;height:1px;background:#000"></i><i style="left:399px;top:157px;width:2px;height:1px;background:#000"></i><i style="left:404px;top:157px;width:2px;height:1px;background:#000"></i><i style="left:400px;top:158px;width:2px;height:1px;background:#000"></i><i style="left:403px;top:158px;width:2px;height:1px;background:#000"></i><i style="left:401px;top:159px;width:3px;height:1px;background:#000"></i><i style="left:395px;top:174px;width:3px;height:1px;background:#000"></i><i style="left:394px;top:175px;width:1px;height:1px;background:#000"></i><i style="left:398px;top:175px;width:1px;height:1px;background:#000"></i><i style="left:393px;top:176px;width:2px;height:1px;background:#000"></i><i style="left:398px;top:176px;width:1px;height:1px;background:#000"></i><i style="left:393px;top:177px;width:2px;height:1px;background:#000"></i><i style="left:398px;top:177px;width:1px;height:1px;background:#000"></i><i style="left:394px;top:178px;width:5px;height:1px;background:#000"></i><i style="left:393px;top:179px;width:2px;height:1px;background:#000"></i><i style="left:398px;top:179px;width:1px;height:1px;background:#000"></i><i style="left:393px;top:180px;width:2px;height:1px;background:#000"></i><i style="left:398px;top:180px;width:1px;height:1px;background:#000"></i><i style="left:394px;top:181px;width:1px;height:1px;background:#000"></i><i style="left:398px;top:181px;width:1px;height:1px;background:#000"></i><i style="left:395px;top:182px;width:3px;height:1px;background:#000"></i><i style="left:400px;top:174px;width:6px;height:1px;background:#000"></i><i style="left:399px;top:175px;width:2px;height:1px;background:#000"></i><i style="left:399px;top:176px;width:5px;height:1px;background:#000"></i><i style="left:399px;top:177px;width:3px;height:1px;background:#000"></i><i style="left:403px;top:177px;width:2px;height:1px;background:#000"></i><i style="left:404px;top:178px;width:2px;height:1px;background:#000"></i><i style="left:404px;top:179px;width:2px;height:1px;background:#000"></i><i style="left:399px;top:180px;width:2px;height:1px;background:#000"></i><i style="left:404px;top:180px;width:2px;height:1px;background:#000"></i><i style="left:400px;top:181px;width:1px;height:1px;background:#000"></i><i style="left:403px;top:181px;width:2px;height:1px;background:#000"></i><i style="left:401px;top:182px;width:3px;height:1px;background:#000"></i><i style="left:395px;top:197px;width:3px;height:1px;background:#000"></i><i style="left:394px;top:198px;width:1px;height:1px;background:#000"></i><i style="left:398px;top:198px;width:1px;height:1px;background:#000"></i><i style="left:393px;top:199px;width:2px;height:1px;background:#000"></i><i style="left:398px;top:199px;width:1px;height:1px;background:#000"></i><i style="left:393px;top:200px;width:2px;height:1px;background:#000"></i><i style="left:398px;top:200px;width:1px;height:1px;background:#000"></i><i style="left:394px;top:201px;width:5px;height:1px;background:#000"></i><i style="left:393px;top:202px;width:2px;height:1px;background:#000"></i><i style="left:398px;top:202px;width:1px;height:1px;background:#000"></i><i style="left:393px;top:203px;width:2px;height:1px;background:#000"></i><i style="left:398px;top:203px;width:1px;height:1px;background:#000"></i><i style="left:394px;top:204px;width:1px;height:1px;background:#000"></i><i style="left:398px;top:204px;width:1px;height:1px;background:#000"></i><i style="left:395px;top:205px;width:3px;height:1px;background:#000"></i><i style="left:401px;top:197px;width:3px;height:1px;background:#000"></i><i style="left:400px;top:198px;width:2px;height:1px;background:#000"></i><i style="left:403px;top:198px;width:2px;height:1px;background:#000"></i><i style="left:399px;top:199px;width:2px;height:1px;background:#000"></i><i style="left:404px;top:199px;width:2px;height:1px;background:#000"></i><i style="left:399px;top:200px;width:2px;height:1px;background:#000"></i><i style="left:404px;top:200px;width:2px;height:1px;background:#000"></i><i style="left:399px;top:201px;width:2px;height:1px;background:#000"></i><i style="left:404px;top:201px;width:2px;height:1px;background:#000"></i><i style="left:399px;top:202px;width:2px;height:1px;background:#000"></i><i style="left:404px;top:202px;width:2px;height:1px;background:#000"></i><i style="left:399px;top:203px;width:2px;height:1px;background:#000"></i><i style="left:404px;top:203px;width:2px;height:1px;background:#000"></i><i style="left:400px;top:204px;width:2px;height:1px;background:#000"></i><i style="left:403px;top:204px;width:2px;height:1px;background:#000"></i><i style="left:401px;top:205px;width:3px;height:1px;background:#000"></i><i style="left:393px;top:220px;width:6px;height:1px;background:#000"></i><i style="left:396px;top:221px;width:2px;height:1px;background:#000"></i><i style="left:396px;top:222px;width:2px;height:1px;background:#000"></i><i style="left:396px;top:223px;width:1px;height:1px;background:#000"></i><i style="left:395px;top:224px;width:2px;height:1px;background:#000"></i><i style="left:395px;top:225px;width:2px;height:1px;background:#000"></i><i style="left:395px;top:226px;width:1px;height:1px;background:#000"></i><i style="left:395px;top:227px;width:1px;height:1px;background:#000"></i><i style="left:394px;top:228px;width:2px;height:1px;background:#000"></i><i style="left:400px;top:220px;width:6px;height:1px;background:#000"></i><i style="left:399px;top:221px;width:2px;height:1px;background:#000"></i><i style="left:399px;top:222px;width:5px;height:1px;background:#000"></i><i style="left:399px;top:223px;width:3px;height:1px;background:#000"></i><i style="left:403px;top:223px;width:2px;height:1px;background:#000"></i><i style="left:404px;top:224px;width:2px;height:1px;background:#000"></i><i style="left:404px;top:225px;width:2px;height:1px;background:#000"></i><i style="left:399px;top:226px;width:2px;height:1px;background:#000"></i><i style="left:404px;top:226px;width:2px;height:1px;background:#000"></i><i style="left:400px;top:227px;width:1px;height:1px;background:#000"></i><i style="left:403px;top:227px;width:2px;height:1px;background:#000"></i><i style="left:401px;top:228px;width:3px;height:1px;background:#000"></i><i style="left:393px;top:243px;width:6px;height:1px;background:#000"></i><i style="left:396px;top:244px;width:2px;height:1px;background:#000"></i><i style="left:396px;top:245px;width:2px;height:1px;background:#000"></i><i style="left:396px;top:246px;width:1px;height:1px;background:#000"></i><i style="left:395px;top:247px;width:2px;height:1px;background:#000"></i><i style="left:395px;top:248px;width:2px;height:1px;background:#000"></i><i style="left:395px;top:249px;width:1px;height:1px;background:#000"></i><i style="left:395px;top:250px;width:1px;height:1px;background:#000"></i><i style="left:394px;top:251px;width:2px;height:1px;background:#000"></i><i style="left:401px;top:243px;width:3px;height:1px;background:#000"></i><i style="left:400px;top:244px;width:2px;height:1px;background:#000"></i><i style="left:403px;top:244px;width:2px;height:1px;background:#000"></i><i style="left:399px;top:245px;width:2px;height:1px;background:#000"></i><i style="left:404px;top:245px;width:2px;height:1px;background:#000"></i><i style="left:399px;top:246px;width:2px;height:1px;background:#000"></i><i style="left:404px;top:246px;width:2px;height:1px;background:#000"></i><i style="left:399px;top:247px;width:2px;height:1px;background:#000"></i><i style="left:404px;top:247px;width:2px;height:1px;background:#000"></i><i style="left:399px;top:248px;width:2px;height:1px;background:#000"></i><i style="left:404px;top:248px;width:2px;height:1px;background:#000"></i><i style="left:399px;top:249px;width:2px;height:1px;background:#000"></i><i style="left:404px;top:249px;width:2px;height:1px;background:#000"></i><i style="left:400px;top:250px;width:2px;height:1px;background:#000"></i><i style="left:403px;top:250px;width:2px;height:1px;background:#000"></i><i style="left:401px;top:251px;width:3px;height:1px;background:#000"></i><i style="left:395px;top:265px;width:3px;height:1px;background:#000"></i><i style="left:394px;top:266px;width:2px;height:1px;background:#000"></i><i style="left:398px;top:266px;width:1px;height:1px;background:#000"></i><i style="left:393px;top:267px;width:2px;height:1px;background:#000"></i><i style="left:393px;top:268px;width:5px;height:1px;background:#000"></i><i style="left:393px;top:269px;width:2px;height:1px;background:#000"></i><i style="left:398px;top:269px;width:1px;height:1px;background:#000"></i><i style="left:393px;top:270px;width:2px;height:1px;background:#000"></i><i style="left:398px;top:270px;width:1px;height:1px;background:#000"></i><i style="left:393px;top:271px;width:2px;height:1px;background:#000"></i><i style="left:398px;top:271px;width:1px;height:1px;background:#000"></i><i style="left:394px;top:272px;width:2px;height:1px;background:#000"></i><i style="left:398px;top:272px;width:1px;height:1px;background:#000"></i><i style="left:395px;top:273px;width:3px;height:1px;background:#000"></i><i style="left:400px;top:265px;width:6px;height:1px;background:#000"></i><i style="left:399px;top:266px;width:2px;height:1px;background:#000"></i><i style="left:399px;top:267px;width:5px;height:1px;background:#000"></i><i style="left:399px;top:268px;width:3px;height:1px;background:#000"></i><i style="left:403px;top:268px;width:2px;height:1px;background:#000"></i><i style="left:404px;top:269px;width:2px;height:1px;background:#000"></i><i style="left:404px;top:270px;width:2px;height:1px;background:#000"></i><i style="left:399px;top:271px;width:2px;height:1px;background:#000"></i><i style="left:404px;top:271px;width:2px;height:1px;background:#000"></i><i style="left:400px;top:272px;width:1px;height:1px;background:#000"></i><i style="left:403px;top:272px;width:2px;height:1px;background:#000"></i><i style="left:401px;top:273px;width:3px;height:1px;background:#000"></i><i style="left:395px;top:288px;width:3px;height:1px;background:#000"></i><i style="left:394px;top:289px;width:2px;height:1px;background:#000"></i><i style="left:398px;top:289px;width:1px;height:1px;background:#000"></i><i style="left:393px;top:290px;width:2px;height:1px;background:#000"></i><i style="left:393px;top:291px;width:5px;height:1px;background:#000"></i><i style="left:393px;top:292px;width:2px;height:1px;background:#000"></i><i style="left:398px;top:292px;width:1px;height:1px;background:#000"></i><i style="left:393px;top:293px;width:2px;height:1px;background:#000"></i><i style="left:398px;top:293px;width:1px;height:1px;background:#000"></i><i style="left:393px;top:294px;width:2px;height:1px;background:#000"></i><i style="left:398px;top:294px;width:1px;height:1px;background:#000"></i><i style="left:394px;top:295px;width:2px;height:1px;background:#000"></i><i style="left:398px;top:295px;width:1px;height:1px;background:#000"></i><i style="left:395px;top:296px;width:3px;height:1px;background:#000"></i><i style="left:401px;top:288px;width:3px;height:1px;background:#000"></i><i style="left:400px;top:289px;width:2px;height:1px;background:#000"></i><i style="left:403px;top:289px;width:2px;height:1px;background:#000"></i><i style="left:399px;top:290px;width:2px;height:1px;background:#000"></i><i style="left:404px;top:290px;width:2px;height:1px;background:#000"></i><i style="left:399px;top:291px;width:2px;height:1px;background:#000"></i><i style="left:404px;top:291px;width:2px;height:1px;background:#000"></i><i style="left:399px;top:292px;width:2px;height:1px;background:#000"></i><i style="left:404px;top:292px;width:2px;height:1px;background:#000"></i><i style="left:399px;top:293px;width:2px;height:1px;background:#000"></i><i style="left:404px;top:293px;width:2px;height:1px;background:#000"></i><i style="left:399px;top:294px;width:2px;height:1px;background:#000"></i><i style="left:404px;top:294px;width:2px;height:1px;background:#000"></i><i style="left:400px;top:295px;width:2px;height:1px;background:#000"></i><i style="left:403px;top:295px;width:2px;height:1px;background:#000"></i><i style="left:401px;top:296px;width:3px;height:1px;background:#000"></i><i style="left:393px;top:311px;width:6px;height:1px;background:#000"></i><i style="left:392px;top:312px;width:2px;height:1px;background:#000"></i><i style="left:392px;top:313px;width:5px;height:1px;background:#000"></i><i style="left:392px;top:314px;width:3px;height:1px;background:#000"></i><i style="left:396px;top:314px;width:2px;height:1px;background:#000"></i><i style="left:397px;top:315px;width:2px;height:1px;background:#000"></i><i style="left:397px;top:316px;width:2px;height:1px;background:#000"></i><i style="left:392px;top:317px;width:2px;height:1px;background:#000"></i><i style="left:397px;top:317px;width:2px;height:1px;background:#000"></i><i style="left:393px;top:318px;width:1px;height:1px;background:#000"></i><i style="left:396px;top:318px;width:2px;height:1px;background:#000"></i><i style="left:394px;top:319px;width:3px;height:1px;background:#000"></i><i style="left:400px;top:311px;width:6px;height:1px;background:#000"></i><i style="left:399px;top:312px;width:2px;height:1px;background:#000"></i><i style="left:399px;top:313px;width:5px;height:1px;background:#000"></i><i style="left:399px;top:314px;width:3px;height:1px;background:#000"></i><i style="left:403px;top:314px;width:2px;height:1px;background:#000"></i><i style="left:404px;top:315px;width:2px;height:1px;background:#000"></i><i style="left:404px;top:316px;width:2px;height:1px;background:#000"></i><i style="left:399px;top:317px;width:2px;height:1px;background:#000"></i><i style="left:404px;top:317px;width:2px;height:1px;background:#000"></i><i style="left:400px;top:318px;width:1px;height:1px;background:#000"></i><i style="left:403px;top:318px;width:2px;height:1px;background:#000"></i><i style="left:401px;top:319px;width:3px;height:1px;background:#000"></i><i style="left:393px;top:334px;width:6px;height:1px;background:#000"></i><i style="left:392px;top:335px;width:2px;height:1px;background:#000"></i><i style="left:392px;top:336px;width:5px;height:1px;background:#000"></i><i style="left:392px;top:337px;width:3px;height:1px;background:#000"></i><i style="left:396px;top:337px;width:2px;height:1px;background:#000"></i><i style="left:397px;top:338px;width:2px;height:1px;background:#000"></i><i style="left:397px;top:339px;width:2px;height:1px;background:#000"></i><i style="left:392px;top:340px;width:2px;height:1px;background:#000"></i><i style="left:397px;top:340px;width:2px;height:1px;background:#000"></i><i style="left:393px;top:341px;width:1px;height:1px;background:#000"></i><i style="left:396px;top:341px;width:2px;height:1px;background:#000"></i><i style="left:394px;top:342px;width:3px;height:1px;background:#000"></i><i style="left:401px;top:334px;width:3px;height:1px;background:#000"></i><i style="left:400px;top:335px;width:2px;height:1px;background:#000"></i><i style="left:403px;top:335px;width:2px;height:1px;background:#000"></i><i style="left:399px;top:336px;width:2px;height:1px;background:#000"></i><i style="left:404px;top:336px;width:2px;height:1px;background:#000"></i><i style="left:399px;top:337px;width:2px;height:1px;background:#000"></i><i style="left:404px;top:337px;width:2px;height:1px;background:#000"></i><i style="left:399px;top:338px;width:2px;height:1px;background:#000"></i><i style="left:404px;top:338px;width:2px;height:1px;background:#000"></i><i style="left:399px;top:339px;width:2px;height:1px;background:#000"></i><i style="left:404px;top:339px;width:2px;height:1px;background:#000"></i><i style="left:399px;top:340px;width:2px;height:1px;background:#000"></i><i style="left:404px;top:340px;width:2px;height:1px;background:#000"></i><i style="left:400px;top:341px;width:2px;height:1px;background:#000"></i><i style="left:403px;top:341px;width:2px;height:1px;background:#000"></i><i style="left:401px;top:342px;width:3px;height:1px;background:#000"></i><i style="left:396px;top:357px;width:3px;height:1px;background:#000"></i><i style="left:395px;top:358px;width:4px;height:1px;background:#000"></i><i style="left:395px;top:359px;width:1px;height:1px;background:#000"></i><i style="left:397px;top:359px;width:2px;height:1px;background:#000"></i><i style="left:394px;top:360px;width:1px;height:1px;background:#000"></i><i style="left:397px;top:360px;width:2px;height:1px;background:#000"></i><i style="left:393px;top:361px;width:2px;height:1px;background:#000"></i><i style="left:397px;top:361px;width:2px;height:1px;background:#000"></i><i style="left:393px;top:362px;width:6px;height:1px;background:#000"></i><i style="left:397px;top:363px;width:2px;height:1px;background:#000"></i><i style="left:397px;top:364px;width:2px;height:1px;background:#000"></i><i style="left:397px;top:365px;width:2px;height:1px;background:#000"></i><i style="left:400px;top:357px;width:6px;height:1px;background:#000"></i><i style="left:399px;top:358px;width:2px;height:1px;background:#000"></i><i style="left:399px;top:359px;width:5px;height:1px;background:#000"></i><i style="left:399px;top:360px;width:3px;height:1px;background:#000"></i><i style="left:403px;top:360px;width:2px;height:1px;background:#000"></i><i style="left:404px;top:361px;width:2px;height:1px;background:#000"></i><i style="left:404px;top:362px;width:2px;height:1px;background:#000"></i><i style="left:399px;top:363px;width:2px;height:1px;background:#000"></i><i style="left:404px;top:363px;width:2px;height:1px;background:#000"></i><i style="left:400px;top:364px;width:1px;height:1px;background:#000"></i><i style="left:403px;top:364px;width:2px;height:1px;background:#000"></i><i style="left:401px;top:365px;width:3px;height:1px;background:#000"></i><i style="left:396px;top:380px;width:3px;height:1px;background:#000"></i><i style="left:395px;top:381px;width:4px;height:1px;background:#000"></i><i style="left:395px;top:382px;width:1px;height:1px;background:#000"></i><i style="left:397px;top:382px;width:2px;height:1px;background:#000"></i><i style="left:394px;top:383px;width:1px;height:1px;background:#000"></i><i style="left:397px;top:383px;width:2px;height:1px;background:#000"></i><i style="left:393px;top:384px;width:2px;height:1px;background:#000"></i><i style="left:397px;top:384px;width:2px;height:1px;background:#000"></i><i style="left:393px;top:385px;width:6px;height:1px;background:#000"></i><i style="left:397px;top:386px;width:2px;height:1px;background:#000"></i><i style="left:397px;top:387px;width:2px;height:1px;background:#000"></i><i style="left:397px;top:388px;width:2px;height:1px;background:#000"></i><i style="left:401px;top:380px;width:3px;height:1px;background:#000"></i><i style="left:400px;top:381px;width:2px;height:1px;background:#000"></i><i style="left:403px;top:381px;width:2px;height:1px;background:#000"></i><i style="left:399px;top:382px;width:2px;height:1px;background:#000"></i><i style="left:404px;top:382px;width:2px;height:1px;background:#000"></i><i style="left:399px;top:383px;width:2px;height:1px;background:#000"></i><i style="left:404px;top:383px;width:2px;height:1px;background:#000"></i><i style="left:399px;top:384px;width:2px;height:1px;background:#000"></i><i style="left:404px;top:384px;width:2px;height:1px;background:#000"></i><i style="left:399px;top:385px;width:2px;height:1px;background:#000"></i><i style="left:404px;top:385px;width:2px;height:1px;background:#000"></i><i style="left:399px;top:386px;width:2px;height:1px;background:#000"></i><i style="left:404px;top:386px;width:2px;height:1px;background:#000"></i><i style="left:400px;top:387px;width:2px;height:1px;background:#000"></i><i style="left:403px;top:387px;width:2px;height:1px;background:#000"></i><i style="left:401px;top:388px;width:3px;height:1px;background:#000"></i><i style="left:395px;top:403px;width:3px;height:1px;background:#000"></i><i style="left:394px;top:404px;width:2px;height:1px;background:#000"></i><i style="left:398px;top:404px;width:1px;height:1px;background:#000"></i><i style="left:393px;top:405px;width:2px;height:1px;background:#000"></i><i style="left:398px;top:405px;width:1px;height:1px;background:#000"></i><i style="left:398px;top:406px;width:1px;height:1px;background:#000"></i><i style="left:396px;top:407px;width:3px;height:1px;background:#000"></i><i style="left:398px;top:408px;width:1px;height:1px;background:#000"></i><i style="left:393px;top:409px;width:2px;height:1px;background:#000"></i><i style="left:398px;top:409px;width:1px;height:1px;background:#000"></i><i style="left:394px;top:410px;width:1px;height:1px;background:#000"></i><i style="left:398px;top:410px;width:1px;height:1px;background:#000"></i><i style="left:395px;top:411px;width:3px;height:1px;background:#000"></i><i style="left:400px;top:403px;width:6px;height:1px;background:#000"></i><i style="left:399px;top:404px;width:2px;height:1px;background:#000"></i><i style="left:399px;top:405px;width:5px;height:1px;background:#000"></i><i style="left:399px;top:406px;width:3px;height:1px;background:#000"></i><i style="left:403px;top:406px;width:2px;height:1px;background:#000"></i><i style="left:404px;top:407px;width:2px;height:1px;background:#000"></i><i style="left:404px;top:408px;width:2px;height:1px;background:#000"></i><i style="left:399px;top:409px;width:2px;height:1px;background:#000"></i><i style="left:404px;top:409px;width:2px;height:1px;background:#000"></i><i style="left:400px;top:410px;width:1px;height:1px;background:#000"></i><i style="left:403px;top:410px;width:2px;height:1px;background:#000"></i><i style="left:401px;top:411px;width:3px;height:1px;background:#000"></i><i style="left:395px;top:425px;width:3px;height:1px;background:#000"></i><i style="left:394px;top:426px;width:2px;height:1px;background:#000"></i><i style="left:398px;top:426px;width:1px;height:1px;background:#000"></i><i style="left:393px;top:427px;width:2px;height:1px;background:#000"></i><i style="left:398px;top:427px;width:1px;height:1px;background:#000"></i><i style="left:398px;top:428px;width:1px;height:1px;background:#000"></i><i style="left:396px;top:429px;width:3px;height:1px;background:#000"></i><i style="left:398px;top:430px;width:1px;height:1px;background:#000"></i><i style="left:393px;top:431px;width:2px;height:1px;background:#000"></i><i style="left:398px;top:431px;width:1px;height:1px;background:#000"></i><i style="left:394px;top:432px;width:1px;height:1px;background:#000"></i><i style="left:398px;top:432px;width:1px;height:1px;background:#000"></i><i style="left:395px;top:433px;width:3px;height:1px;background:#000"></i><i style="left:401px;top:425px;width:3px;height:1px;background:#000"></i><i style="left:400px;top:426px;width:2px;height:1px;background:#000"></i><i style="left:403px;top:426px;width:2px;height:1px;background:#000"></i><i style="left:399px;top:427px;width:2px;height:1px;background:#000"></i><i style="left:404px;top:427px;width:2px;height:1px;background:#000"></i><i style="left:399px;top:428px;width:2px;height:1px;background:#000"></i><i style="left:404px;top:428px;width:2px;height:1px;background:#000"></i><i style="left:399px;top:429px;width:2px;height:1px;background:#000"></i><i style="left:404px;top:429px;width:2px;height:1px;background:#000"></i><i style="left:399px;top:430px;width:2px;height:1px;background:#000"></i><i style="left:404px;top:430px;width:2px;height:1px;background:#000"></i><i style="left:399px;top:431px;width:2px;height:1px;background:#000"></i><i style="left:404px;top:431px;width:2px;height:1px;background:#000"></i><i style="left:400px;top:432px;width:2px;height:1px;background:#000"></i><i style="left:403px;top:432px;width:2px;height:1px;background:#000"></i><i style="left:401px;top:433px;width:3px;height:1px;background:#000"></i><i style="left:395px;top:448px;width:3px;height:1px;background:#000"></i><i style="left:394px;top:449px;width:1px;height:1px;background:#000"></i><i style="left:398px;top:449px;width:1px;height:1px;background:#000"></i><i style="left:393px;top:450px;width:2px;height:1px;background:#000"></i><i style="left:398px;top:450px;width:1px;height:1px;background:#000"></i><i style="left:396px;top:451px;width:2px;height:1px;background:#000"></i><i style="left:395px;top:452px;width:2px;height:1px;background:#000"></i><i style="left:394px;top:453px;width:2px;height:1px;background:#000"></i><i style="left:393px;top:454px;width:2px;height:1px;background:#000"></i><i style="left:393px;top:455px;width:2px;height:1px;background:#000"></i><i style="left:393px;top:456px;width:6px;height:1px;background:#000"></i><i style="left:400px;top:448px;width:6px;height:1px;background:#000"></i><i style="left:399px;top:449px;width:2px;height:1px;background:#000"></i><i style="left:399px;top:450px;width:5px;height:1px;background:#000"></i><i style="left:399px;top:451px;width:3px;height:1px;background:#000"></i><i style="left:403px;top:451px;width:2px;height:1px;background:#000"></i><i style="left:404px;top:452px;width:2px;height:1px;background:#000"></i><i style="left:404px;top:453px;width:2px;height:1px;background:#000"></i><i style="left:399px;top:454px;width:2px;height:1px;background:#000"></i><i style="left:404px;top:454px;width:2px;height:1px;background:#000"></i><i style="left:400px;top:455px;width:1px;height:1px;background:#000"></i><i style="left:403px;top:455px;width:2px;height:1px;background:#000"></i><i style="left:401px;top:456px;width:3px;height:1px;background:#000"></i><i style="left:395px;top:471px;width:3px;height:1px;background:#000"></i><i style="left:394px;top:472px;width:1px;height:1px;background:#000"></i><i style="left:398px;top:472px;width:1px;height:1px;background:#000"></i><i style="left:393px;top:473px;width:2px;height:1px;background:#000"></i><i style="left:398px;top:473px;width:1px;height:1px;background:#000"></i><i style="left:396px;top:474px;width:2px;height:1px;background:#000"></i><i style="left:395px;top:475px;width:2px;height:1px;background:#000"></i><i style="left:394px;top:476px;width:2px;height:1px;background:#000"></i><i style="left:393px;top:477px;width:2px;height:1px;background:#000"></i><i style="left:393px;top:478px;width:2px;height:1px;background:#000"></i><i style="left:393px;top:479px;width:6px;height:1px;background:#000"></i><i style="left:401px;top:471px;width:3px;height:1px;background:#000"></i><i style="left:400px;top:472px;width:2px;height:1px;background:#000"></i><i style="left:403px;top:472px;width:2px;height:1px;background:#000"></i><i style="left:399px;top:473px;width:2px;height:1px;background:#000"></i><i style="left:404px;top:473px;width:2px;height:1px;background:#000"></i><i style="left:399px;top:474px;width:2px;height:1px;background:#000"></i><i style="left:404px;top:474px;width:2px;height:1px;background:#000"></i><i style="left:399px;top:475px;width:2px;height:1px;background:#000"></i><i style="left:404px;top:475px;width:2px;height:1px;background:#000"></i><i style="left:399px;top:476px;width:2px;height:1px;background:#000"></i><i style="left:404px;top:476px;width:2px;height:1px;background:#000"></i><i style="left:399px;top:477px;width:2px;height:1px;background:#000"></i><i style="left:404px;top:477px;width:2px;height:1px;background:#000"></i><i style="left:400px;top:478px;width:2px;height:1px;background:#000"></i><i style="left:403px;top:478px;width:2px;height:1px;background:#000"></i><i style="left:401px;top:479px;width:3px;height:1px;background:#000"></i><i style="left:397px;top:494px;width:2px;height:1px;background:#000"></i><i style="left:397px;top:495px;width:2px;height:1px;background:#000"></i><i style="left:395px;top:496px;width:4px;height:1px;background:#000"></i><i style="left:397px;top:497px;width:2px;height:1px;background:#000"></i><i style="left:397px;top:498px;width:2px;height:1px;background:#000"></i><i style="left:397px;top:499px;width:2px;height:1px;background:#000"></i><i style="left:397px;top:500px;width:2px;height:1px;background:#000"></i><i style="left:397px;top:501px;width:2px;height:1px;background:#000"></i><i style="left:397px;top:502px;width:2px;height:1px;background:#000"></i><i style="left:400px;top:494px;width:6px;height:1px;background:#000"></i><i style="left:399px;top:495px;width:2px;height:1px;background:#000"></i><i style="left:399px;top:496px;width:5px;height:1px;background:#000"></i><i style="left:399px;top:497px;width:3px;height:1px;background:#000"></i><i style="left:403px;top:497px;width:2px;height:1px;background:#000"></i><i style="left:404px;top:498px;width:2px;height:1px;background:#000"></i><i style="left:404px;top:499px;width:2px;height:1px;background:#000"></i><i style="left:399px;top:500px;width:2px;height:1px;background:#000"></i><i style="left:404px;top:500px;width:2px;height:1px;background:#000"></i><i style="left:400px;top:501px;width:1px;height:1px;background:#000"></i><i style="left:403px;top:501px;width:2px;height:1px;background:#000"></i><i style="left:401px;top:502px;width:3px;height:1px;background:#000"></i><i style="left:397px;top:517px;width:2px;height:1px;background:#000"></i><i style="left:397px;top:518px;width:2px;height:1px;background:#000"></i><i style="left:395px;top:519px;width:4px;height:1px;background:#000"></i><i style="left:397px;top:520px;width:2px;height:1px;background:#000"></i><i style="left:397px;top:521px;width:2px;height:1px;background:#000"></i><i style="left:397px;top:522px;width:2px;height:1px;background:#000"></i><i style="left:397px;top:523px;width:2px;height:1px;background:#000"></i><i style="left:397px;top:524px;width:2px;height:1px;background:#000"></i><i style="left:397px;top:525px;width:2px;height:1px;background:#000"></i><i style="left:401px;top:517px;width:3px;height:1px;background:#000"></i><i style="left:400px;top:518px;width:2px;height:1px;background:#000"></i><i style="left:403px;top:518px;width:2px;height:1px;background:#000"></i><i style="left:399px;top:519px;width:2px;height:1px;background:#000"></i><i style="left:404px;top:519px;width:2px;height:1px;background:#000"></i><i style="left:399px;top:520px;width:2px;height:1px;background:#000"></i><i style="left:404px;top:520px;width:2px;height:1px;background:#000"></i><i style="left:399px;top:521px;width:2px;height:1px;background:#000"></i><i style="left:404px;top:521px;width:2px;height:1px;background:#000"></i><i style="left:399px;top:522px;width:2px;height:1px;background:#000"></i><i style="left:404px;top:522px;width:2px;height:1px;background:#000"></i><i style="left:399px;top:523px;width:2px;height:1px;background:#000"></i><i style="left:404px;top:523px;width:2px;height:1px;background:#000"></i><i style="left:400px;top:524px;width:2px;height:1px;background:#000"></i><i style="left:403px;top:524px;width:2px;height:1px;background:#000"></i><i style="left:401px;top:525px;width:3px;height:1px;background:#000"></i><i style="left:397px;top:540px;width:6px;height:1px;background:#000"></i><i style="left:396px;top:541px;width:2px;height:1px;background:#000"></i><i style="left:396px;top:542px;width:5px;height:1px;background:#000"></i><i style="left:396px;top:543px;width:3px;height:1px;background:#000"></i><i style="left:400px;top:543px;width:2px;height:1px;background:#000"></i><i style="left:401px;top:544px;width:2px;height:1px;background:#000"></i><i style="left:401px;top:545px;width:2px;height:1px;background:#000"></i><i style="left:396px;top:546px;width:2px;height:1px;background:#000"></i><i style="left:401px;top:546px;width:2px;height:1px;background:#000"></i><i style="left:397px;top:547px;width:1px;height:1px;background:#000"></i><i style="left:400px;top:547px;width:2px;height:1px;background:#000"></i><i style="left:398px;top:548px;width:3px;height:1px;background:#000"></i><i style="left:398px;top:562px;width:3px;height:1px;background:#000"></i><i style="left:397px;top:563px;width:2px;height:1px;background:#000"></i><i style="left:400px;top:563px;width:2px;height:1px;background:#000"></i><i style="left:396px;top:564px;width:2px;height:1px;background:#000"></i><i style="left:401px;top:564px;width:2px;height:1px;background:#000"></i><i style="left:396px;top:565px;width:2px;height:1px;background:#000"></i><i style="left:401px;top:565px;width:2px;height:1px;background:#000"></i><i style="left:396px;top:566px;width:2px;height:1px;background:#000"></i><i style="left:401px;top:566px;width:2px;height:1px;background:#000"></i><i style="left:396px;top:567px;width:2px;height:1px;background:#000"></i><i style="left:401px;top:567px;width:2px;height:1px;background:#000"></i><i style="left:396px;top:568px;width:2px;height:1px;background:#000"></i><i style="left:401px;top:568px;width:2px;height:1px;background:#000"></i><i style="left:397px;top:569px;width:2px;height:1px;background:#000"></i><i style="left:400px;top:569px;width:2px;height:1px;background:#000"></i><i style="left:398px;top:570px;width:3px;height:1px;background:#000"></i><i style="left:80px;top:580px;width:2px;height:1px;background:#000"></i><i style="left:80px;top:581px;width:2px;height:1px;background:#000"></i><i style="left:78px;top:582px;width:4px;height:1px;background:#000"></i><i style="left:80px;top:583px;width:2px;height:1px;background:#000"></i><i style="left:80px;top:584px;width:2px;height:1px;background:#000"></i><i style="left:80px;top:585px;width:2px;height:1px;background:#000"></i><i style="left:80px;top:586px;width:2px;height:1px;background:#000"></i><i style="left:80px;top:587px;width:2px;height:1px;background:#000"></i><i style="left:80px;top:588px;width:2px;height:1px;background:#000"></i><i style="left:84px;top:580px;width:3px;height:1px;background:#000"></i><i style="left:83px;top:581px;width:2px;height:1px;background:#000"></i><i style="left:87px;top:581px;width:1px;height:1px;background:#000"></i><i style="left:82px;top:582px;width:2px;height:1px;background:#000"></i><i style="left:87px;top:582px;width:2px;height:1px;background:#000"></i><i style="left:87px;top:583px;width:1px;height:1px;background:#000"></i><i style="left:85px;top:584px;width:3px;height:1px;background:#000"></i><i style="left:87px;top:585px;width:2px;height:1px;background:#000"></i><i style="left:82px;top:586px;width:2px;height:1px;background:#000"></i><i style="left:87px;top:586px;width:2px;height:1px;background:#000"></i><i style="left:83px;top:587px;width:1px;height:1px;background:#000"></i><i style="left:87px;top:587px;width:1px;height:1px;background:#000"></i><i style="left:84px;top:588px;width:3px;height:1px;background:#000"></i><i style="left:90px;top:580px;width:3px;height:1px;background:#000"></i><i style="left:95px;top:580px;width:2px;height:1px;background:#000"></i><i style="left:89px;top:581px;width:1px;height:1px;background:#000"></i><i style="left:93px;top:581px;width:3px;height:1px;background:#000"></i><i style="left:90px;top:582px;width:3px;height:1px;background:#000"></i><i style="left:94px;top:582px;width:1px;height:1px;background:#000"></i><i style="left:93px;top:583px;width:1px;height:1px;background:#000"></i><i style="left:93px;top:584px;width:1px;height:1px;background:#000"></i><i style="left:92px;top:585px;width:2px;height:1px;background:#000"></i><i style="left:95px;top:585px;width:3px;height:1px;background:#000"></i><i style="left:92px;top:586px;width:1px;height:1px;background:#000"></i><i style="left:94px;top:586px;width:1px;height:1px;background:#000"></i><i style="left:98px;top:586px;width:1px;height:1px;background:#000"></i><i style="left:91px;top:587px;width:2px;height:1px;background:#000"></i><i style="left:94px;top:587px;width:1px;height:1px;background:#000"></i><i style="left:98px;top:587px;width:1px;height:1px;background:#000"></i><i style="left:91px;top:588px;width:2px;height:1px;background:#000"></i><i style="left:95px;top:588px;width:3px;height:1px;background:#000"></i><i style="left:170px;top:580px;width:3px;height:1px;background:#000"></i><i style="left:169px;top:581px;width:1px;height:1px;background:#000"></i><i style="left:172px;top:581px;width:2px;height:1px;background:#000"></i><i style="left:168px;top:582px;width:2px;height:1px;background:#000"></i><i style="left:173px;top:582px;width:1px;height:1px;background:#000"></i><i style="left:168px;top:583px;width:2px;height:1px;background:#000"></i><i style="left:173px;top:583px;width:1px;height:1px;background:#000"></i><i style="left:169px;top:584px;width:1px;height:1px;background:#000"></i><i style="left:173px;top:584px;width:1px;height:1px;background:#000"></i><i style="left:170px;top:585px;width:4px;height:1px;background:#000"></i><i style="left:173px;top:586px;width:1px;height:1px;background:#000"></i><i style="left:168px;top:587px;width:2px;height:1px;background:#000"></i><i style="left:172px;top:587px;width:2px;height:1px;background:#000"></i><i style="left:169px;top:588px;width:4px;height:1px;background:#000"></i><i style="left:176px;top:580px;width:3px;height:1px;background:#000"></i><i style="left:181px;top:580px;width:2px;height:1px;background:#000"></i><i style="left:175px;top:581px;width:1px;height:1px;background:#000"></i><i style="left:179px;top:581px;width:3px;height:1px;background:#000"></i><i style="left:176px;top:582px;width:3px;height:1px;background:#000"></i><i style="left:180px;top:582px;width:1px;height:1px;background:#000"></i><i style="left:179px;top:583px;width:1px;height:1px;background:#000"></i><i style="left:179px;top:584px;width:1px;height:1px;background:#000"></i><i style="left:178px;top:585px;width:2px;height:1px;background:#000"></i><i style="left:181px;top:585px;width:3px;height:1px;background:#000"></i><i style="left:178px;top:586px;width:1px;height:1px;background:#000"></i><i style="left:180px;top:586px;width:1px;height:1px;background:#000"></i><i style="left:184px;top:586px;width:1px;height:1px;background:#000"></i><i style="left:177px;top:587px;width:2px;height:1px;background:#000"></i><i style="left:180px;top:587px;width:1px;height:1px;background:#000"></i><i style="left:184px;top:587px;width:1px;height:1px;background:#000"></i><i style="left:177px;top:588px;width:2px;height:1px;background:#000"></i><i style="left:181px;top:588px;width:3px;height:1px;background:#000"></i><i style="left:254px;top:580px;width:6px;height:1px;background:#000"></i><i style="left:253px;top:581px;width:2px;height:1px;background:#000"></i><i style="left:253px;top:582px;width:5px;height:1px;background:#000"></i><i style="left:253px;top:583px;width:3px;height:1px;background:#000"></i><i style="left:257px;top:583px;width:2px;height:1px;background:#000"></i><i style="left:258px;top:584px;width:2px;height:1px;background:#000"></i><i style="left:258px;top:585px;width:2px;height:1px;background:#000"></i><i style="left:253px;top:586px;width:2px;height:1px;background:#000"></i><i style="left:258px;top:586px;width:2px;height:1px;background:#000"></i><i style="left:254px;top:587px;width:1px;height:1px;background:#000"></i><i style="left:257px;top:587px;width:2px;height:1px;background:#000"></i><i style="left:255px;top:588px;width:3px;height:1px;background:#000"></i><i style="left:260px;top:580px;width:3px;height:1px;background:#000"></i><i style="left:265px;top:580px;width:2px;height:1px;background:#000"></i><i style="left:259px;top:581px;width:1px;height:1px;background:#000"></i><i style="left:263px;top:581px;width:3px;height:1px;background:#000"></i><i style="left:260px;top:582px;width:3px;height:1px;background:#000"></i><i style="left:264px;top:582px;width:1px;height:1px;background:#000"></i><i style="left:263px;top:583px;width:1px;height:1px;background:#000"></i><i style="left:263px;top:584px;width:1px;height:1px;background:#000"></i><i style="left:262px;top:585px;width:2px;height:1px;background:#000"></i><i style="left:265px;top:585px;width:3px;height:1px;background:#000"></i><i style="left:262px;top:586px;width:1px;height:1px;background:#000"></i><i style="left:264px;top:586px;width:1px;height:1px;background:#000"></i><i style="left:268px;top:586px;width:1px;height:1px;background:#000"></i><i style="left:261px;top:587px;width:2px;height:1px;background:#000"></i><i style="left:264px;top:587px;width:1px;height:1px;background:#000"></i><i style="left:268px;top:587px;width:1px;height:1px;background:#000"></i><i style="left:261px;top:588px;width:2px;height:1px;background:#000"></i><i style="left:265px;top:588px;width:3px;height:1px;background:#000"></i><i style="left:342px;top:580px;width:2px;height:1px;background:#000"></i><i style="left:342px;top:581px;width:2px;height:1px;background:#000"></i><i style="left:340px;top:582px;width:4px;height:1px;background:#000"></i><i style="left:342px;top:583px;width:2px;height:1px;background:#000"></i><i style="left:342px;top:584px;width:2px;height:1px;background:#000"></i><i style="left:342px;top:585px;width:2px;height:1px;background:#000"></i><i style="left:342px;top:586px;width:2px;height:1px;background:#000"></i><i style="left:342px;top:587px;width:2px;height:1px;background:#000"></i><i style="left:342px;top:588px;width:2px;height:1px;background:#000"></i><i style="left:345px;top:580px;width:3px;height:1px;background:#000"></i><i style="left:350px;top:580px;width:2px;height:1px;background:#000"></i><i style="left:344px;top:581px;width:1px;height:1px;background:#000"></i><i style="left:348px;top:581px;width:3px;height:1px;background:#000"></i><i style="left:345px;top:582px;width:3px;height:1px;background:#000"></i><i style="left:349px;top:582px;width:1px;height:1px;background:#000"></i><i style="left:348px;top:583px;width:1px;height:1px;background:#000"></i><i style="left:348px;top:584px;width:1px;height:1px;background:#000"></i><i style="left:347px;top:585px;width:2px;height:1px;background:#000"></i><i style="left:350px;top:585px;width:3px;height:1px;background:#000"></i><i style="left:347px;top:586px;width:1px;height:1px;background:#000"></i><i style="left:349px;top:586px;width:1px;height:1px;background:#000"></i><i style="left:353px;top:586px;width:1px;height:1px;background:#000"></i><i style="left:346px;top:587px;width:2px;height:1px;background:#000"></i><i style="left:349px;top:587px;width:1px;height:1px;background:#000"></i><i style="left:353px;top:587px;width:1px;height:1px;background:#000"></i><i style="left:346px;top:588px;width:2px;height:1px;background:#000"></i><i style="left:350px;top:588px;width:3px;height:1px;background:#000"></i><i style="left:464px;top:580px;width:2px;height:1px;background:#000"></i><i style="left:464px;top:581px;width:2px;height:1px;background:#000"></i><i style="left:462px;top:582px;width:4px;height:1px;background:#000"></i><i style="left:464px;top:583px;width:2px;height:1px;background:#000"></i><i style="left:464px;top:584px;width:2px;height:1px;background:#000"></i><i style="left:464px;top:585px;width:2px;height:1px;background:#000"></i><i style="left:464px;top:586px;width:2px;height:1px;background:#000"></i><i style="left:464px;top:587px;width:2px;height:1px;background:#000"></i><i style="left:464px;top:588px;width:2px;height:1px;background:#000"></i><i style="left:467px;top:580px;width:3px;height:1px;background:#000"></i><i style="left:472px;top:580px;width:2px;height:1px;background:#000"></i><i style="left:466px;top:581px;width:1px;height:1px;background:#000"></i><i style="left:470px;top:581px;width:3px;height:1px;background:#000"></i><i style="left:467px;top:582px;width:3px;height:1px;background:#000"></i><i style="left:471px;top:582px;width:1px;height:1px;background:#000"></i><i style="left:470px;top:583px;width:1px;height:1px;background:#000"></i><i style="left:470px;top:584px;width:1px;height:1px;background:#000"></i><i style="left:469px;top:585px;width:2px;height:1px;background:#000"></i><i style="left:472px;top:585px;width:3px;height:1px;background:#000"></i><i style="left:469px;top:586px;width:1px;height:1px;background:#000"></i><i style="left:471px;top:586px;width:1px;height:1px;background:#000"></i><i style="left:475px;top:586px;width:1px;height:1px;background:#000"></i><i style="left:468px;top:587px;width:2px;height:1px;background:#000"></i><i style="left:471px;top:587px;width:1px;height:1px;background:#000"></i><i style="left:475px;top:587px;width:1px;height:1px;background:#000"></i><i style="left:468px;top:588px;width:2px;height:1px;background:#000"></i><i style="left:472px;top:588px;width:3px;height:1px;background:#000"></i><i style="left:547px;top:580px;width:6px;height:1px;background:#000"></i><i style="left:546px;top:581px;width:2px;height:1px;background:#000"></i><i style="left:546px;top:582px;width:5px;height:1px;background:#000"></i><i style="left:546px;top:583px;width:3px;height:1px;background:#000"></i><i style="left:550px;top:583px;width:2px;height:1px;background:#000"></i><i style="left:551px;top:584px;width:2px;height:1px;background:#000"></i><i style="left:551px;top:585px;width:2px;height:1px;background:#000"></i><i style="left:546px;top:586px;width:2px;height:1px;background:#000"></i><i style="left:551px;top:586px;width:2px;height:1px;background:#000"></i><i style="left:547px;top:587px;width:1px;height:1px;background:#000"></i><i style="left:550px;top:587px;width:2px;height:1px;background:#000"></i><i style="left:548px;top:588px;width:3px;height:1px;background:#000"></i><i style="left:554px;top:580px;width:3px;height:1px;background:#000"></i><i style="left:559px;top:580px;width:2px;height:1px;background:#000"></i><i style="left:553px;top:581px;width:1px;height:1px;background:#000"></i><i style="left:557px;top:581px;width:3px;height:1px;background:#000"></i><i style="left:554px;top:582px;width:3px;height:1px;background:#000"></i><i style="left:558px;top:582px;width:1px;height:1px;background:#000"></i><i style="left:557px;top:583px;width:1px;height:1px;background:#000"></i><i style="left:557px;top:584px;width:1px;height:1px;background:#000"></i><i style="left:556px;top:585px;width:2px;height:1px;background:#000"></i><i style="left:559px;top:585px;width:3px;height:1px;background:#000"></i><i style="left:556px;top:586px;width:1px;height:1px;background:#000"></i><i style="left:558px;top:586px;width:1px;height:1px;background:#000"></i><i style="left:562px;top:586px;width:1px;height:1px;background:#000"></i><i style="left:555px;top:587px;width:2px;height:1px;background:#000"></i><i style="left:558px;top:587px;width:1px;height:1px;background:#000"></i><i style="left:562px;top:587px;width:1px;height:1px;background:#000"></i><i style="left:555px;top:588px;width:2px;height:1px;background:#000"></i><i style="left:559px;top:588px;width:3px;height:1px;background:#000"></i><i style="left:633px;top:580px;width:3px;height:1px;background:#000"></i><i style="left:632px;top:581px;width:1px;height:1px;background:#000"></i><i style="left:635px;top:581px;width:2px;height:1px;background:#000"></i><i style="left:631px;top:582px;width:2px;height:1px;background:#000"></i><i style="left:636px;top:582px;width:1px;height:1px;background:#000"></i><i style="left:631px;top:583px;width:2px;height:1px;background:#000"></i><i style="left:636px;top:583px;width:1px;height:1px;background:#000"></i><i style="left:632px;top:584px;width:1px;height:1px;background:#000"></i><i style="left:636px;top:584px;width:1px;height:1px;background:#000"></i><i style="left:633px;top:585px;width:4px;height:1px;background:#000"></i><i style="left:636px;top:586px;width:1px;height:1px;background:#000"></i><i style="left:631px;top:587px;width:2px;height:1px;background:#000"></i><i style="left:635px;top:587px;width:2px;height:1px;background:#000"></i><i style="left:632px;top:588px;width:4px;height:1px;background:#000"></i><i style="left:639px;top:580px;width:3px;height:1px;background:#000"></i><i style="left:644px;top:580px;width:2px;height:1px;background:#000"></i><i style="left:638px;top:581px;width:1px;height:1px;background:#000"></i><i style="left:642px;top:581px;width:3px;height:1px;background:#000"></i><i style="left:639px;top:582px;width:3px;height:1px;background:#000"></i><i style="left:643px;top:582px;width:1px;height:1px;background:#000"></i><i style="left:642px;top:583px;width:1px;height:1px;background:#000"></i><i style="left:642px;top:584px;width:1px;height:1px;background:#000"></i><i style="left:641px;top:585px;width:2px;height:1px;background:#000"></i><i style="left:644px;top:585px;width:3px;height:1px;background:#000"></i><i style="left:641px;top:586px;width:1px;height:1px;background:#000"></i><i style="left:643px;top:586px;width:1px;height:1px;background:#000"></i><i style="left:647px;top:586px;width:1px;height:1px;background:#000"></i><i style="left:640px;top:587px;width:2px;height:1px;background:#000"></i><i style="left:643px;top:587px;width:1px;height:1px;background:#000"></i><i style="left:647px;top:587px;width:1px;height:1px;background:#000"></i><i style="left:640px;top:588px;width:2px;height:1px;background:#000"></i><i style="left:644px;top:588px;width:3px;height:1px;background:#000"></i><i style="left:714px;top:580px;width:2px;height:1px;background:#000"></i><i style="left:714px;top:581px;width:2px;height:1px;background:#000"></i><i style="left:712px;top:582px;width:4px;height:1px;background:#000"></i><i style="left:714px;top:583px;width:2px;height:1px;background:#000"></i><i style="left:714px;top:584px;width:2px;height:1px;background:#000"></i><i style="left:714px;top:585px;width:2px;height:1px;background:#000"></i><i style="left:714px;top:586px;width:2px;height:1px;background:#000"></i><i style="left:714px;top:587px;width:2px;height:1px;background:#000"></i><i style="left:714px;top:588px;width:2px;height:1px;background:#000"></i><i style="left:718px;top:580px;width:3px;height:1px;background:#000"></i><i style="left:717px;top:581px;width:2px;height:1px;background:#000"></i><i style="left:721px;top:581px;width:1px;height:1px;background:#000"></i><i style="left:716px;top:582px;width:2px;height:1px;background:#000"></i><i style="left:721px;top:582px;width:2px;height:1px;background:#000"></i><i style="left:721px;top:583px;width:1px;height:1px;background:#000"></i><i style="left:719px;top:584px;width:3px;height:1px;background:#000"></i><i style="left:721px;top:585px;width:2px;height:1px;background:#000"></i><i style="left:716px;top:586px;width:2px;height:1px;background:#000"></i><i style="left:721px;top:586px;width:2px;height:1px;background:#000"></i><i style="left:717px;top:587px;width:1px;height:1px;background:#000"></i><i style="left:721px;top:587px;width:1px;height:1px;background:#000"></i><i style="left:718px;top:588px;width:3px;height:1px;background:#000"></i><i style="left:724px;top:580px;width:3px;height:1px;background:#000"></i><i style="left:729px;top:580px;width:2px;height:1px;background:#000"></i><i style="left:723px;top:581px;width:1px;height:1px;background:#000"></i><i style="left:727px;top:581px;width:3px;height:1px;background:#000"></i><i style="left:724px;top:582px;width:3px;height:1px;background:#000"></i><i style="left:728px;top:582px;width:1px;height:1px;background:#000"></i><i style="left:727px;top:583px;width:1px;height:1px;background:#000"></i><i style="left:727px;top:584px;width:1px;height:1px;background:#000"></i><i style="left:726px;top:585px;width:2px;height:1px;background:#000"></i><i style="left:729px;top:585px;width:3px;height:1px;background:#000"></i><i style="left:726px;top:586px;width:1px;height:1px;background:#000"></i><i style="left:728px;top:586px;width:1px;height:1px;background:#000"></i><i style="left:732px;top:586px;width:1px;height:1px;background:#000"></i><i style="left:725px;top:587px;width:2px;height:1px;background:#000"></i><i style="left:728px;top:587px;width:1px;height:1px;background:#000"></i><i style="left:732px;top:587px;width:1px;height:1px;background:#000"></i><i style="left:725px;top:588px;width:2px;height:1px;background:#000"></i><i style="left:729px;top:588px;width:3px;height:1px;background:#000"></i>
</body></html>
